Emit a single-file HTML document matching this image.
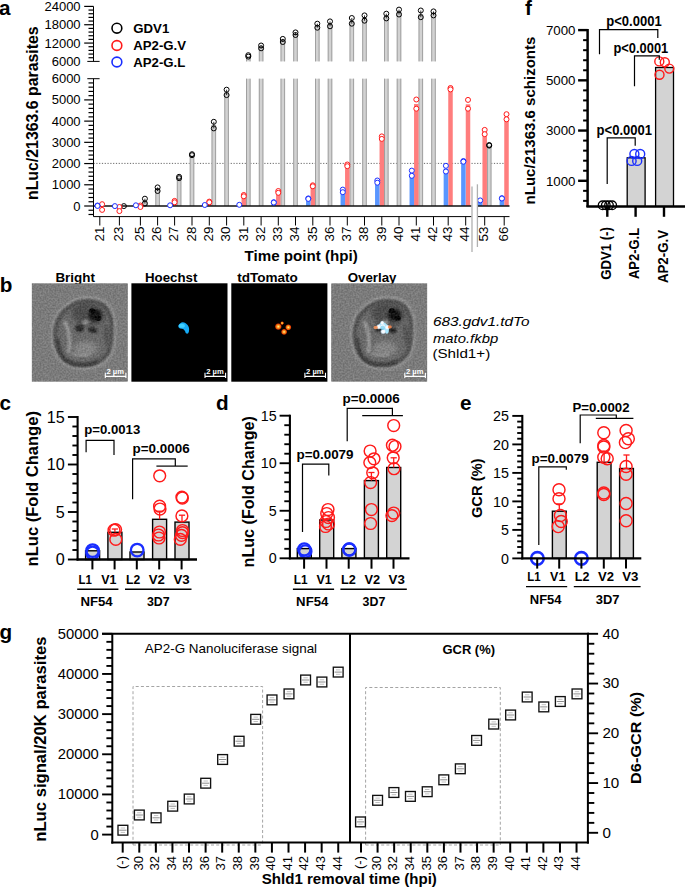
<!DOCTYPE html>
<html><head><meta charset="utf-8"><style>
html,body{margin:0;padding:0;background:#fff;width:685px;height:888px;overflow:hidden}
svg{display:block;font-family:"Liberation Sans", sans-serif}
</style></head><body>
<svg width="685" height="888" viewBox="0 0 685 888" font-family='"Liberation Sans", sans-serif'>
<line x1="93.50" y1="163.40" x2="505.00" y2="163.40" stroke="#444" stroke-width="0.8" stroke-dasharray="1.2,1.6"/>
<rect x="142.65" y="201.00" width="4.50" height="5.00" fill="#d2d2d2" stroke="none" stroke-width="1.0" />
<line x1="143.10" y1="201.00" x2="143.10" y2="206.00" stroke="#9a9a9a" stroke-width="0.9" />
<line x1="146.70" y1="201.00" x2="146.70" y2="206.00" stroke="#9a9a9a" stroke-width="0.9" />
<rect x="155.35" y="189.00" width="4.50" height="17.00" fill="#d2d2d2" stroke="none" stroke-width="1.0" />
<line x1="155.80" y1="189.00" x2="155.80" y2="206.00" stroke="#9a9a9a" stroke-width="0.9" />
<line x1="159.40" y1="189.00" x2="159.40" y2="206.00" stroke="#9a9a9a" stroke-width="0.9" />
<rect x="176.85" y="177.50" width="4.50" height="28.50" fill="#d2d2d2" stroke="none" stroke-width="1.0" />
<line x1="177.30" y1="177.50" x2="177.30" y2="206.00" stroke="#9a9a9a" stroke-width="0.9" />
<line x1="180.90" y1="177.50" x2="180.90" y2="206.00" stroke="#9a9a9a" stroke-width="0.9" />
<rect x="189.75" y="154.70" width="4.50" height="51.30" fill="#d2d2d2" stroke="none" stroke-width="1.0" />
<line x1="190.20" y1="154.70" x2="190.20" y2="206.00" stroke="#9a9a9a" stroke-width="0.9" />
<line x1="193.80" y1="154.70" x2="193.80" y2="206.00" stroke="#9a9a9a" stroke-width="0.9" />
<rect x="211.55" y="125.00" width="4.50" height="81.00" fill="#d2d2d2" stroke="none" stroke-width="1.0" />
<line x1="212.00" y1="125.00" x2="212.00" y2="206.00" stroke="#9a9a9a" stroke-width="0.9" />
<line x1="215.60" y1="125.00" x2="215.60" y2="206.00" stroke="#9a9a9a" stroke-width="0.9" />
<rect x="224.35" y="92.40" width="4.50" height="113.60" fill="#d2d2d2" stroke="none" stroke-width="1.0" />
<line x1="224.80" y1="92.40" x2="224.80" y2="206.00" stroke="#9a9a9a" stroke-width="0.9" />
<line x1="228.40" y1="92.40" x2="228.40" y2="206.00" stroke="#9a9a9a" stroke-width="0.9" />
<rect x="246.05" y="56.00" width="4.50" height="5.40" fill="#d2d2d2" stroke="none" stroke-width="1.0" />
<rect x="246.05" y="78.70" width="4.50" height="127.30" fill="#d2d2d2" stroke="none" stroke-width="1.0" />
<line x1="246.50" y1="56.00" x2="246.50" y2="61.40" stroke="#9a9a9a" stroke-width="0.9" />
<line x1="246.50" y1="78.70" x2="246.50" y2="206.00" stroke="#9a9a9a" stroke-width="0.9" />
<line x1="250.10" y1="56.00" x2="250.10" y2="61.40" stroke="#9a9a9a" stroke-width="0.9" />
<line x1="250.10" y1="78.70" x2="250.10" y2="206.00" stroke="#9a9a9a" stroke-width="0.9" />
<rect x="258.85" y="47.00" width="4.50" height="14.40" fill="#d2d2d2" stroke="none" stroke-width="1.0" />
<rect x="258.85" y="78.70" width="4.50" height="127.30" fill="#d2d2d2" stroke="none" stroke-width="1.0" />
<line x1="259.30" y1="47.00" x2="259.30" y2="61.40" stroke="#9a9a9a" stroke-width="0.9" />
<line x1="259.30" y1="78.70" x2="259.30" y2="206.00" stroke="#9a9a9a" stroke-width="0.9" />
<line x1="262.90" y1="47.00" x2="262.90" y2="61.40" stroke="#9a9a9a" stroke-width="0.9" />
<line x1="262.90" y1="78.70" x2="262.90" y2="206.00" stroke="#9a9a9a" stroke-width="0.9" />
<rect x="280.55" y="40.50" width="4.50" height="20.90" fill="#d2d2d2" stroke="none" stroke-width="1.0" />
<rect x="280.55" y="78.70" width="4.50" height="127.30" fill="#d2d2d2" stroke="none" stroke-width="1.0" />
<line x1="281.00" y1="40.50" x2="281.00" y2="61.40" stroke="#9a9a9a" stroke-width="0.9" />
<line x1="281.00" y1="78.70" x2="281.00" y2="206.00" stroke="#9a9a9a" stroke-width="0.9" />
<line x1="284.60" y1="40.50" x2="284.60" y2="61.40" stroke="#9a9a9a" stroke-width="0.9" />
<line x1="284.60" y1="78.70" x2="284.60" y2="206.00" stroke="#9a9a9a" stroke-width="0.9" />
<rect x="293.25" y="33.70" width="4.50" height="27.70" fill="#d2d2d2" stroke="none" stroke-width="1.0" />
<rect x="293.25" y="78.70" width="4.50" height="127.30" fill="#d2d2d2" stroke="none" stroke-width="1.0" />
<line x1="293.70" y1="33.70" x2="293.70" y2="61.40" stroke="#9a9a9a" stroke-width="0.9" />
<line x1="293.70" y1="78.70" x2="293.70" y2="206.00" stroke="#9a9a9a" stroke-width="0.9" />
<line x1="297.30" y1="33.70" x2="297.30" y2="61.40" stroke="#9a9a9a" stroke-width="0.9" />
<line x1="297.30" y1="78.70" x2="297.30" y2="206.00" stroke="#9a9a9a" stroke-width="0.9" />
<rect x="315.05" y="25.70" width="4.50" height="35.70" fill="#d2d2d2" stroke="none" stroke-width="1.0" />
<rect x="315.05" y="78.70" width="4.50" height="127.30" fill="#d2d2d2" stroke="none" stroke-width="1.0" />
<line x1="315.50" y1="25.70" x2="315.50" y2="61.40" stroke="#9a9a9a" stroke-width="0.9" />
<line x1="315.50" y1="78.70" x2="315.50" y2="206.00" stroke="#9a9a9a" stroke-width="0.9" />
<line x1="319.10" y1="25.70" x2="319.10" y2="61.40" stroke="#9a9a9a" stroke-width="0.9" />
<line x1="319.10" y1="78.70" x2="319.10" y2="206.00" stroke="#9a9a9a" stroke-width="0.9" />
<rect x="327.75" y="24.00" width="4.50" height="37.40" fill="#d2d2d2" stroke="none" stroke-width="1.0" />
<rect x="327.75" y="78.70" width="4.50" height="127.30" fill="#d2d2d2" stroke="none" stroke-width="1.0" />
<line x1="328.20" y1="24.00" x2="328.20" y2="61.40" stroke="#9a9a9a" stroke-width="0.9" />
<line x1="328.20" y1="78.70" x2="328.20" y2="206.00" stroke="#9a9a9a" stroke-width="0.9" />
<line x1="331.80" y1="24.00" x2="331.80" y2="61.40" stroke="#9a9a9a" stroke-width="0.9" />
<line x1="331.80" y1="78.70" x2="331.80" y2="206.00" stroke="#9a9a9a" stroke-width="0.9" />
<rect x="349.55" y="21.00" width="4.50" height="40.40" fill="#d2d2d2" stroke="none" stroke-width="1.0" />
<rect x="349.55" y="78.70" width="4.50" height="127.30" fill="#d2d2d2" stroke="none" stroke-width="1.0" />
<line x1="350.00" y1="21.00" x2="350.00" y2="61.40" stroke="#9a9a9a" stroke-width="0.9" />
<line x1="350.00" y1="78.70" x2="350.00" y2="206.00" stroke="#9a9a9a" stroke-width="0.9" />
<line x1="353.60" y1="21.00" x2="353.60" y2="61.40" stroke="#9a9a9a" stroke-width="0.9" />
<line x1="353.60" y1="78.70" x2="353.60" y2="206.00" stroke="#9a9a9a" stroke-width="0.9" />
<rect x="362.25" y="18.00" width="4.50" height="43.40" fill="#d2d2d2" stroke="none" stroke-width="1.0" />
<rect x="362.25" y="78.70" width="4.50" height="127.30" fill="#d2d2d2" stroke="none" stroke-width="1.0" />
<line x1="362.70" y1="18.00" x2="362.70" y2="61.40" stroke="#9a9a9a" stroke-width="0.9" />
<line x1="362.70" y1="78.70" x2="362.70" y2="206.00" stroke="#9a9a9a" stroke-width="0.9" />
<line x1="366.30" y1="18.00" x2="366.30" y2="61.40" stroke="#9a9a9a" stroke-width="0.9" />
<line x1="366.30" y1="78.70" x2="366.30" y2="206.00" stroke="#9a9a9a" stroke-width="0.9" />
<rect x="384.05" y="16.00" width="4.50" height="45.40" fill="#d2d2d2" stroke="none" stroke-width="1.0" />
<rect x="384.05" y="78.70" width="4.50" height="127.30" fill="#d2d2d2" stroke="none" stroke-width="1.0" />
<line x1="384.50" y1="16.00" x2="384.50" y2="61.40" stroke="#9a9a9a" stroke-width="0.9" />
<line x1="384.50" y1="78.70" x2="384.50" y2="206.00" stroke="#9a9a9a" stroke-width="0.9" />
<line x1="388.10" y1="16.00" x2="388.10" y2="61.40" stroke="#9a9a9a" stroke-width="0.9" />
<line x1="388.10" y1="78.70" x2="388.10" y2="206.00" stroke="#9a9a9a" stroke-width="0.9" />
<rect x="396.75" y="12.00" width="4.50" height="49.40" fill="#d2d2d2" stroke="none" stroke-width="1.0" />
<rect x="396.75" y="78.70" width="4.50" height="127.30" fill="#d2d2d2" stroke="none" stroke-width="1.0" />
<line x1="397.20" y1="12.00" x2="397.20" y2="61.40" stroke="#9a9a9a" stroke-width="0.9" />
<line x1="397.20" y1="78.70" x2="397.20" y2="206.00" stroke="#9a9a9a" stroke-width="0.9" />
<line x1="400.80" y1="12.00" x2="400.80" y2="61.40" stroke="#9a9a9a" stroke-width="0.9" />
<line x1="400.80" y1="78.70" x2="400.80" y2="206.00" stroke="#9a9a9a" stroke-width="0.9" />
<rect x="418.55" y="14.00" width="4.50" height="47.40" fill="#d2d2d2" stroke="none" stroke-width="1.0" />
<rect x="418.55" y="78.70" width="4.50" height="127.30" fill="#d2d2d2" stroke="none" stroke-width="1.0" />
<line x1="419.00" y1="14.00" x2="419.00" y2="61.40" stroke="#9a9a9a" stroke-width="0.9" />
<line x1="419.00" y1="78.70" x2="419.00" y2="206.00" stroke="#9a9a9a" stroke-width="0.9" />
<line x1="422.60" y1="14.00" x2="422.60" y2="61.40" stroke="#9a9a9a" stroke-width="0.9" />
<line x1="422.60" y1="78.70" x2="422.60" y2="206.00" stroke="#9a9a9a" stroke-width="0.9" />
<rect x="431.25" y="13.40" width="4.50" height="48.00" fill="#d2d2d2" stroke="none" stroke-width="1.0" />
<rect x="431.25" y="78.70" width="4.50" height="127.30" fill="#d2d2d2" stroke="none" stroke-width="1.0" />
<line x1="431.70" y1="13.40" x2="431.70" y2="61.40" stroke="#9a9a9a" stroke-width="0.9" />
<line x1="431.70" y1="78.70" x2="431.70" y2="206.00" stroke="#9a9a9a" stroke-width="0.9" />
<line x1="435.30" y1="13.40" x2="435.30" y2="61.40" stroke="#9a9a9a" stroke-width="0.9" />
<line x1="435.30" y1="78.70" x2="435.30" y2="206.00" stroke="#9a9a9a" stroke-width="0.9" />
<rect x="486.95" y="145.50" width="4.50" height="60.50" fill="#d2d2d2" stroke="none" stroke-width="1.0" />
<line x1="487.40" y1="145.50" x2="487.40" y2="206.00" stroke="#9a9a9a" stroke-width="0.9" />
<line x1="491.00" y1="145.50" x2="491.00" y2="206.00" stroke="#9a9a9a" stroke-width="0.9" />
<rect x="172.35" y="201.60" width="4.50" height="4.40" fill="#ff7d7d" stroke="none" stroke-width="1.0" />
<rect x="207.05" y="202.00" width="4.50" height="4.00" fill="#ff7d7d" stroke="none" stroke-width="1.0" />
<rect x="241.55" y="195.50" width="4.50" height="10.50" fill="#ff7d7d" stroke="none" stroke-width="1.0" />
<rect x="276.05" y="192.00" width="4.50" height="14.00" fill="#ff7d7d" stroke="none" stroke-width="1.0" />
<rect x="310.55" y="186.00" width="4.50" height="20.00" fill="#ff7d7d" stroke="none" stroke-width="1.0" />
<rect x="345.05" y="165.30" width="4.50" height="40.70" fill="#ff7d7d" stroke="none" stroke-width="1.0" />
<rect x="379.55" y="137.60" width="4.50" height="68.40" fill="#ff7d7d" stroke="none" stroke-width="1.0" />
<rect x="414.05" y="104.00" width="4.50" height="102.00" fill="#ff7d7d" stroke="none" stroke-width="1.0" />
<rect x="448.25" y="88.70" width="4.50" height="117.30" fill="#ff7d7d" stroke="none" stroke-width="1.0" />
<rect x="465.75" y="104.30" width="4.50" height="101.70" fill="#ff7d7d" stroke="none" stroke-width="1.0" />
<rect x="482.45" y="132.00" width="4.50" height="74.00" fill="#ff7d7d" stroke="none" stroke-width="1.0" />
<rect x="504.25" y="116.70" width="4.50" height="89.30" fill="#ff7d7d" stroke="none" stroke-width="1.0" />
<rect x="271.55" y="202.50" width="4.50" height="3.50" fill="#5996ff" stroke="none" stroke-width="1.0" />
<rect x="306.05" y="198.60" width="4.50" height="7.40" fill="#5996ff" stroke="none" stroke-width="1.0" />
<rect x="340.55" y="191.00" width="4.50" height="15.00" fill="#5996ff" stroke="none" stroke-width="1.0" />
<rect x="375.05" y="181.60" width="4.50" height="24.40" fill="#5996ff" stroke="none" stroke-width="1.0" />
<rect x="409.55" y="173.20" width="4.50" height="32.80" fill="#5996ff" stroke="none" stroke-width="1.0" />
<rect x="443.65" y="168.60" width="4.50" height="37.40" fill="#5996ff" stroke="none" stroke-width="1.0" />
<rect x="461.15" y="161.30" width="4.50" height="44.70" fill="#5996ff" stroke="none" stroke-width="1.0" />
<rect x="477.95" y="200.40" width="4.50" height="5.60" fill="#5996ff" stroke="none" stroke-width="1.0" />
<rect x="499.65" y="198.30" width="4.50" height="7.70" fill="#5996ff" stroke="none" stroke-width="1.0" />
<line x1="93.50" y1="206.00" x2="471.50" y2="206.00" stroke="#111" stroke-width="1.5" />
<line x1="477.50" y1="206.00" x2="509.50" y2="206.00" stroke="#111" stroke-width="1.5" />
<circle cx="123.90" cy="206.10" r="2.5" fill="none" stroke="#000" stroke-width="1.0"/>
<line x1="144.90" y1="198.70" x2="144.90" y2="203.50" stroke="#000" stroke-width="0.8" />
<circle cx="144.90" cy="198.70" r="2.5" fill="none" stroke="#000" stroke-width="1.0"/>
<circle cx="144.90" cy="203.50" r="2.5" fill="none" stroke="#000" stroke-width="1.0"/>
<line x1="157.60" y1="187.40" x2="157.60" y2="191.00" stroke="#000" stroke-width="0.8" />
<circle cx="157.60" cy="187.40" r="2.5" fill="none" stroke="#000" stroke-width="1.0"/>
<circle cx="157.60" cy="191.00" r="2.5" fill="none" stroke="#000" stroke-width="1.0"/>
<circle cx="179.10" cy="176.80" r="2.5" fill="none" stroke="#000" stroke-width="1.0"/>
<circle cx="179.10" cy="178.20" r="2.5" fill="none" stroke="#000" stroke-width="1.0"/>
<circle cx="192.00" cy="154.20" r="2.5" fill="none" stroke="#000" stroke-width="1.0"/>
<circle cx="192.00" cy="155.20" r="2.5" fill="none" stroke="#000" stroke-width="1.0"/>
<line x1="213.80" y1="121.80" x2="213.80" y2="128.40" stroke="#000" stroke-width="0.8" />
<circle cx="213.80" cy="121.80" r="2.5" fill="none" stroke="#000" stroke-width="1.0"/>
<circle cx="213.80" cy="128.40" r="2.5" fill="none" stroke="#000" stroke-width="1.0"/>
<line x1="226.60" y1="89.70" x2="226.60" y2="95.10" stroke="#000" stroke-width="0.8" />
<circle cx="226.60" cy="89.70" r="2.5" fill="none" stroke="#000" stroke-width="1.0"/>
<circle cx="226.60" cy="95.10" r="2.5" fill="none" stroke="#000" stroke-width="1.0"/>
<circle cx="248.30" cy="55.20" r="2.5" fill="none" stroke="#000" stroke-width="1.0"/>
<circle cx="248.30" cy="56.60" r="2.5" fill="none" stroke="#000" stroke-width="1.0"/>
<line x1="261.10" y1="45.50" x2="261.10" y2="48.30" stroke="#000" stroke-width="0.8" />
<circle cx="261.10" cy="45.50" r="2.5" fill="none" stroke="#000" stroke-width="1.0"/>
<circle cx="261.10" cy="48.30" r="2.5" fill="none" stroke="#000" stroke-width="1.0"/>
<line x1="282.80" y1="38.90" x2="282.80" y2="42.00" stroke="#000" stroke-width="0.8" />
<circle cx="282.80" cy="38.90" r="2.5" fill="none" stroke="#000" stroke-width="1.0"/>
<circle cx="282.80" cy="42.00" r="2.5" fill="none" stroke="#000" stroke-width="1.0"/>
<line x1="295.50" y1="32.40" x2="295.50" y2="35.00" stroke="#000" stroke-width="0.8" />
<circle cx="295.50" cy="32.40" r="2.5" fill="none" stroke="#000" stroke-width="1.0"/>
<circle cx="295.50" cy="35.00" r="2.5" fill="none" stroke="#000" stroke-width="1.0"/>
<line x1="317.30" y1="23.70" x2="317.30" y2="27.70" stroke="#000" stroke-width="0.8" />
<circle cx="317.30" cy="23.70" r="2.5" fill="none" stroke="#000" stroke-width="1.0"/>
<circle cx="317.30" cy="27.70" r="2.5" fill="none" stroke="#000" stroke-width="1.0"/>
<line x1="330.00" y1="21.40" x2="330.00" y2="26.30" stroke="#000" stroke-width="0.8" />
<circle cx="330.00" cy="21.40" r="2.5" fill="none" stroke="#000" stroke-width="1.0"/>
<circle cx="330.00" cy="26.30" r="2.5" fill="none" stroke="#000" stroke-width="1.0"/>
<line x1="351.80" y1="18.00" x2="351.80" y2="23.70" stroke="#000" stroke-width="0.8" />
<circle cx="351.80" cy="18.00" r="2.5" fill="none" stroke="#000" stroke-width="1.0"/>
<circle cx="351.80" cy="23.70" r="2.5" fill="none" stroke="#000" stroke-width="1.0"/>
<line x1="364.50" y1="15.40" x2="364.50" y2="20.70" stroke="#000" stroke-width="0.8" />
<circle cx="364.50" cy="15.40" r="2.5" fill="none" stroke="#000" stroke-width="1.0"/>
<circle cx="364.50" cy="20.70" r="2.5" fill="none" stroke="#000" stroke-width="1.0"/>
<line x1="386.30" y1="13.70" x2="386.30" y2="18.40" stroke="#000" stroke-width="0.8" />
<circle cx="386.30" cy="13.70" r="2.5" fill="none" stroke="#000" stroke-width="1.0"/>
<circle cx="386.30" cy="18.40" r="2.5" fill="none" stroke="#000" stroke-width="1.0"/>
<line x1="399.00" y1="9.60" x2="399.00" y2="14.50" stroke="#000" stroke-width="0.8" />
<circle cx="399.00" cy="9.60" r="2.5" fill="none" stroke="#000" stroke-width="1.0"/>
<circle cx="399.00" cy="14.50" r="2.5" fill="none" stroke="#000" stroke-width="1.0"/>
<line x1="420.80" y1="10.50" x2="420.80" y2="17.20" stroke="#000" stroke-width="0.8" />
<circle cx="420.80" cy="10.50" r="2.5" fill="none" stroke="#000" stroke-width="1.0"/>
<circle cx="420.80" cy="17.20" r="2.5" fill="none" stroke="#000" stroke-width="1.0"/>
<line x1="433.50" y1="11.40" x2="433.50" y2="15.40" stroke="#000" stroke-width="0.8" />
<circle cx="433.50" cy="11.40" r="2.5" fill="none" stroke="#000" stroke-width="1.0"/>
<circle cx="433.50" cy="15.40" r="2.5" fill="none" stroke="#000" stroke-width="1.0"/>
<circle cx="489.20" cy="145.00" r="2.5" fill="none" stroke="#000" stroke-width="1.0"/>
<circle cx="489.20" cy="145.60" r="2.5" fill="none" stroke="#000" stroke-width="1.0"/>
<circle cx="102.10" cy="204.20" r="2.5" fill="#fff" stroke="#ff1a1a" stroke-width="1.0"/>
<circle cx="102.10" cy="209.90" r="2.5" fill="#fff" stroke="#ff1a1a" stroke-width="1.0"/>
<circle cx="119.40" cy="207.00" r="2.5" fill="#fff" stroke="#ff1a1a" stroke-width="1.0"/>
<circle cx="119.40" cy="211.10" r="2.5" fill="#fff" stroke="#ff1a1a" stroke-width="1.0"/>
<circle cx="140.40" cy="205.50" r="2.5" fill="#fff" stroke="#ff1a1a" stroke-width="1.0"/>
<circle cx="140.40" cy="207.00" r="2.5" fill="#fff" stroke="#ff1a1a" stroke-width="1.0"/>
<circle cx="174.60" cy="200.90" r="2.5" fill="#fff" stroke="#ff1a1a" stroke-width="1.0"/>
<circle cx="174.60" cy="202.30" r="2.5" fill="#fff" stroke="#ff1a1a" stroke-width="1.0"/>
<circle cx="209.30" cy="201.60" r="2.5" fill="#fff" stroke="#ff1a1a" stroke-width="1.0"/>
<circle cx="209.30" cy="202.30" r="2.5" fill="#fff" stroke="#ff1a1a" stroke-width="1.0"/>
<circle cx="243.80" cy="195.00" r="2.5" fill="#fff" stroke="#ff1a1a" stroke-width="1.0"/>
<circle cx="243.80" cy="196.30" r="2.5" fill="#fff" stroke="#ff1a1a" stroke-width="1.0"/>
<circle cx="278.30" cy="191.00" r="2.5" fill="#fff" stroke="#ff1a1a" stroke-width="1.0"/>
<circle cx="278.30" cy="192.80" r="2.5" fill="#fff" stroke="#ff1a1a" stroke-width="1.0"/>
<circle cx="312.80" cy="185.30" r="2.5" fill="#fff" stroke="#ff1a1a" stroke-width="1.0"/>
<circle cx="312.80" cy="186.30" r="2.5" fill="#fff" stroke="#ff1a1a" stroke-width="1.0"/>
<circle cx="347.30" cy="164.50" r="2.5" fill="#fff" stroke="#ff1a1a" stroke-width="1.0"/>
<circle cx="347.30" cy="166.20" r="2.5" fill="#fff" stroke="#ff1a1a" stroke-width="1.0"/>
<circle cx="381.80" cy="136.40" r="2.5" fill="#fff" stroke="#ff1a1a" stroke-width="1.0"/>
<circle cx="381.80" cy="138.90" r="2.5" fill="#fff" stroke="#ff1a1a" stroke-width="1.0"/>
<circle cx="416.30" cy="99.50" r="2.5" fill="#fff" stroke="#ff1a1a" stroke-width="1.0"/>
<circle cx="416.30" cy="108.70" r="2.5" fill="#fff" stroke="#ff1a1a" stroke-width="1.0"/>
<circle cx="450.50" cy="88.00" r="2.5" fill="#fff" stroke="#ff1a1a" stroke-width="1.0"/>
<circle cx="450.50" cy="89.40" r="2.5" fill="#fff" stroke="#ff1a1a" stroke-width="1.0"/>
<circle cx="468.00" cy="99.90" r="2.5" fill="#fff" stroke="#ff1a1a" stroke-width="1.0"/>
<circle cx="468.00" cy="108.70" r="2.5" fill="#fff" stroke="#ff1a1a" stroke-width="1.0"/>
<circle cx="484.70" cy="129.90" r="2.5" fill="#fff" stroke="#ff1a1a" stroke-width="1.0"/>
<circle cx="484.70" cy="134.20" r="2.5" fill="#fff" stroke="#ff1a1a" stroke-width="1.0"/>
<circle cx="506.50" cy="114.20" r="2.5" fill="#fff" stroke="#ff1a1a" stroke-width="1.0"/>
<circle cx="506.50" cy="119.30" r="2.5" fill="#fff" stroke="#ff1a1a" stroke-width="1.0"/>
<circle cx="97.50" cy="205.50" r="2.5" fill="#fff" stroke="#1a2eff" stroke-width="1.0"/>
<circle cx="97.50" cy="205.90" r="2.5" fill="#fff" stroke="#1a2eff" stroke-width="1.0"/>
<circle cx="114.90" cy="206.10" r="2.5" fill="#fff" stroke="#1a2eff" stroke-width="1.0"/>
<circle cx="135.90" cy="205.30" r="2.5" fill="#fff" stroke="#1a2eff" stroke-width="1.0"/>
<circle cx="170.10" cy="205.30" r="2.5" fill="#fff" stroke="#1a2eff" stroke-width="1.0"/>
<circle cx="204.80" cy="205.00" r="2.5" fill="#fff" stroke="#1a2eff" stroke-width="1.0"/>
<circle cx="239.30" cy="204.80" r="2.5" fill="#fff" stroke="#1a2eff" stroke-width="1.0"/>
<circle cx="273.80" cy="202.20" r="2.5" fill="#fff" stroke="#1a2eff" stroke-width="1.0"/>
<circle cx="273.80" cy="202.60" r="2.5" fill="#fff" stroke="#1a2eff" stroke-width="1.0"/>
<circle cx="308.30" cy="198.40" r="2.5" fill="#fff" stroke="#1a2eff" stroke-width="1.0"/>
<circle cx="308.30" cy="198.90" r="2.5" fill="#fff" stroke="#1a2eff" stroke-width="1.0"/>
<circle cx="342.80" cy="189.60" r="2.5" fill="#fff" stroke="#1a2eff" stroke-width="1.0"/>
<circle cx="342.80" cy="192.20" r="2.5" fill="#fff" stroke="#1a2eff" stroke-width="1.0"/>
<circle cx="377.30" cy="180.50" r="2.5" fill="#fff" stroke="#1a2eff" stroke-width="1.0"/>
<circle cx="377.30" cy="182.70" r="2.5" fill="#fff" stroke="#1a2eff" stroke-width="1.0"/>
<circle cx="411.80" cy="170.60" r="2.5" fill="#fff" stroke="#1a2eff" stroke-width="1.0"/>
<circle cx="411.80" cy="175.80" r="2.5" fill="#fff" stroke="#1a2eff" stroke-width="1.0"/>
<circle cx="445.90" cy="165.80" r="2.5" fill="#fff" stroke="#1a2eff" stroke-width="1.0"/>
<circle cx="445.90" cy="171.50" r="2.5" fill="#fff" stroke="#1a2eff" stroke-width="1.0"/>
<circle cx="463.40" cy="161.00" r="2.5" fill="#fff" stroke="#1a2eff" stroke-width="1.0"/>
<circle cx="463.40" cy="161.70" r="2.5" fill="#fff" stroke="#1a2eff" stroke-width="1.0"/>
<circle cx="480.20" cy="200.40" r="2.5" fill="#fff" stroke="#1a2eff" stroke-width="1.0"/>
<circle cx="501.90" cy="198.20" r="2.5" fill="#fff" stroke="#1a2eff" stroke-width="1.0"/>
<circle cx="501.90" cy="198.50" r="2.5" fill="#fff" stroke="#1a2eff" stroke-width="1.0"/>
<line x1="93.50" y1="78.70" x2="93.50" y2="216.60" stroke="#000" stroke-width="1.0" />
<line x1="93.50" y1="6.40" x2="93.50" y2="61.40" stroke="#000" stroke-width="1.0" />
<line x1="87.30" y1="61.40" x2="99.60" y2="61.40" stroke="#000" stroke-width="1.0" />
<line x1="87.30" y1="78.70" x2="99.60" y2="78.70" stroke="#000" stroke-width="1.0" />
<line x1="88.50" y1="214.49" x2="93.50" y2="214.49" stroke="#000" stroke-width="1.2" />
<line x1="88.50" y1="210.24" x2="93.50" y2="210.24" stroke="#000" stroke-width="1.2" />
<line x1="84.20" y1="206.00" x2="93.50" y2="206.00" stroke="#000" stroke-width="1.2" />
<line x1="88.50" y1="201.76" x2="93.50" y2="201.76" stroke="#000" stroke-width="1.2" />
<line x1="88.50" y1="197.51" x2="93.50" y2="197.51" stroke="#000" stroke-width="1.2" />
<line x1="88.50" y1="193.27" x2="93.50" y2="193.27" stroke="#000" stroke-width="1.2" />
<line x1="88.50" y1="189.02" x2="93.50" y2="189.02" stroke="#000" stroke-width="1.2" />
<line x1="84.20" y1="184.78" x2="93.50" y2="184.78" stroke="#000" stroke-width="1.2" />
<line x1="88.50" y1="180.54" x2="93.50" y2="180.54" stroke="#000" stroke-width="1.2" />
<line x1="88.50" y1="176.29" x2="93.50" y2="176.29" stroke="#000" stroke-width="1.2" />
<line x1="88.50" y1="172.05" x2="93.50" y2="172.05" stroke="#000" stroke-width="1.2" />
<line x1="88.50" y1="167.80" x2="93.50" y2="167.80" stroke="#000" stroke-width="1.2" />
<line x1="84.20" y1="163.56" x2="93.50" y2="163.56" stroke="#000" stroke-width="1.2" />
<line x1="88.50" y1="159.32" x2="93.50" y2="159.32" stroke="#000" stroke-width="1.2" />
<line x1="88.50" y1="155.07" x2="93.50" y2="155.07" stroke="#000" stroke-width="1.2" />
<line x1="88.50" y1="150.83" x2="93.50" y2="150.83" stroke="#000" stroke-width="1.2" />
<line x1="88.50" y1="146.58" x2="93.50" y2="146.58" stroke="#000" stroke-width="1.2" />
<line x1="84.20" y1="142.34" x2="93.50" y2="142.34" stroke="#000" stroke-width="1.2" />
<line x1="88.50" y1="138.10" x2="93.50" y2="138.10" stroke="#000" stroke-width="1.2" />
<line x1="88.50" y1="133.85" x2="93.50" y2="133.85" stroke="#000" stroke-width="1.2" />
<line x1="88.50" y1="129.61" x2="93.50" y2="129.61" stroke="#000" stroke-width="1.2" />
<line x1="88.50" y1="125.36" x2="93.50" y2="125.36" stroke="#000" stroke-width="1.2" />
<line x1="84.20" y1="121.12" x2="93.50" y2="121.12" stroke="#000" stroke-width="1.2" />
<line x1="88.50" y1="116.88" x2="93.50" y2="116.88" stroke="#000" stroke-width="1.2" />
<line x1="88.50" y1="112.63" x2="93.50" y2="112.63" stroke="#000" stroke-width="1.2" />
<line x1="88.50" y1="108.39" x2="93.50" y2="108.39" stroke="#000" stroke-width="1.2" />
<line x1="88.50" y1="104.14" x2="93.50" y2="104.14" stroke="#000" stroke-width="1.2" />
<line x1="84.20" y1="99.90" x2="93.50" y2="99.90" stroke="#000" stroke-width="1.2" />
<line x1="88.50" y1="95.66" x2="93.50" y2="95.66" stroke="#000" stroke-width="1.2" />
<line x1="88.50" y1="91.41" x2="93.50" y2="91.41" stroke="#000" stroke-width="1.2" />
<line x1="88.50" y1="87.17" x2="93.50" y2="87.17" stroke="#000" stroke-width="1.2" />
<line x1="88.50" y1="82.92" x2="93.50" y2="82.92" stroke="#000" stroke-width="1.2" />
<line x1="88.50" y1="57.73" x2="93.50" y2="57.73" stroke="#000" stroke-width="1.2" />
<line x1="88.50" y1="54.07" x2="93.50" y2="54.07" stroke="#000" stroke-width="1.2" />
<line x1="88.50" y1="50.40" x2="93.50" y2="50.40" stroke="#000" stroke-width="1.2" />
<line x1="88.50" y1="46.73" x2="93.50" y2="46.73" stroke="#000" stroke-width="1.2" />
<line x1="84.20" y1="43.07" x2="93.50" y2="43.07" stroke="#000" stroke-width="1.2" />
<line x1="88.50" y1="39.40" x2="93.50" y2="39.40" stroke="#000" stroke-width="1.2" />
<line x1="88.50" y1="35.73" x2="93.50" y2="35.73" stroke="#000" stroke-width="1.2" />
<line x1="88.50" y1="32.07" x2="93.50" y2="32.07" stroke="#000" stroke-width="1.2" />
<line x1="88.50" y1="28.40" x2="93.50" y2="28.40" stroke="#000" stroke-width="1.2" />
<line x1="84.20" y1="24.73" x2="93.50" y2="24.73" stroke="#000" stroke-width="1.2" />
<line x1="88.50" y1="21.07" x2="93.50" y2="21.07" stroke="#000" stroke-width="1.2" />
<line x1="88.50" y1="17.40" x2="93.50" y2="17.40" stroke="#000" stroke-width="1.2" />
<line x1="88.50" y1="13.73" x2="93.50" y2="13.73" stroke="#000" stroke-width="1.2" />
<line x1="88.50" y1="10.07" x2="93.50" y2="10.07" stroke="#000" stroke-width="1.2" />
<line x1="84.20" y1="6.40" x2="93.50" y2="6.40" stroke="#000" stroke-width="1.2" />
<line x1="93.50" y1="216.60" x2="471.50" y2="216.60" stroke="#000" stroke-width="1.0" />
<line x1="477.50" y1="216.60" x2="509.50" y2="216.60" stroke="#000" stroke-width="1.0" />
<line x1="99.80" y1="216.60" x2="99.80" y2="225.50" stroke="#000" stroke-width="1.0" />
<line x1="119.40" y1="216.60" x2="119.40" y2="225.50" stroke="#000" stroke-width="1.0" />
<line x1="140.40" y1="216.60" x2="140.40" y2="225.50" stroke="#000" stroke-width="1.0" />
<line x1="157.60" y1="216.60" x2="157.60" y2="225.50" stroke="#000" stroke-width="1.0" />
<line x1="174.60" y1="216.60" x2="174.60" y2="225.50" stroke="#000" stroke-width="1.0" />
<line x1="192.00" y1="216.60" x2="192.00" y2="225.50" stroke="#000" stroke-width="1.0" />
<line x1="209.30" y1="216.60" x2="209.30" y2="225.50" stroke="#000" stroke-width="1.0" />
<line x1="226.60" y1="216.60" x2="226.60" y2="225.50" stroke="#000" stroke-width="1.0" />
<line x1="243.80" y1="216.60" x2="243.80" y2="225.50" stroke="#000" stroke-width="1.0" />
<line x1="261.10" y1="216.60" x2="261.10" y2="225.50" stroke="#000" stroke-width="1.0" />
<line x1="278.30" y1="216.60" x2="278.30" y2="225.50" stroke="#000" stroke-width="1.0" />
<line x1="295.50" y1="216.60" x2="295.50" y2="225.50" stroke="#000" stroke-width="1.0" />
<line x1="312.80" y1="216.60" x2="312.80" y2="225.50" stroke="#000" stroke-width="1.0" />
<line x1="330.00" y1="216.60" x2="330.00" y2="225.50" stroke="#000" stroke-width="1.0" />
<line x1="347.30" y1="216.60" x2="347.30" y2="225.50" stroke="#000" stroke-width="1.0" />
<line x1="364.50" y1="216.60" x2="364.50" y2="225.50" stroke="#000" stroke-width="1.0" />
<line x1="381.80" y1="216.60" x2="381.80" y2="225.50" stroke="#000" stroke-width="1.0" />
<line x1="399.00" y1="216.60" x2="399.00" y2="225.50" stroke="#000" stroke-width="1.0" />
<line x1="416.30" y1="216.60" x2="416.30" y2="225.50" stroke="#000" stroke-width="1.0" />
<line x1="433.50" y1="216.60" x2="433.50" y2="225.50" stroke="#000" stroke-width="1.0" />
<line x1="448.20" y1="216.60" x2="448.20" y2="225.50" stroke="#000" stroke-width="1.0" />
<line x1="465.70" y1="216.60" x2="465.70" y2="225.50" stroke="#000" stroke-width="1.0" />
<line x1="484.70" y1="216.60" x2="484.70" y2="225.50" stroke="#000" stroke-width="1.0" />
<line x1="504.20" y1="216.60" x2="504.20" y2="225.50" stroke="#000" stroke-width="1.0" />
<line x1="472.00" y1="186.50" x2="472.00" y2="252.00" stroke="#b0b0b0" stroke-width="1.3" />
<line x1="477.40" y1="184.30" x2="477.40" y2="247.00" stroke="#b0b0b0" stroke-width="1.3" />
<text transform="translate(80.60,10.90)" font-size="13.0" font-weight="normal" font-style="normal" text-anchor="end" fill="#000">24000</text>
<text transform="translate(80.60,29.23)" font-size="13.0" font-weight="normal" font-style="normal" text-anchor="end" fill="#000">18000</text>
<text transform="translate(80.60,47.57)" font-size="13.0" font-weight="normal" font-style="normal" text-anchor="end" fill="#000">12000</text>
<text transform="translate(80.60,65.90)" font-size="13.0" font-weight="normal" font-style="normal" text-anchor="end" fill="#000">6000</text>
<text transform="translate(80.60,210.50)" font-size="13.0" font-weight="normal" font-style="normal" text-anchor="end" fill="#000">0</text>
<text transform="translate(80.60,189.28)" font-size="13.0" font-weight="normal" font-style="normal" text-anchor="end" fill="#000">1000</text>
<text transform="translate(80.60,168.06)" font-size="13.0" font-weight="normal" font-style="normal" text-anchor="end" fill="#000">2000</text>
<text transform="translate(80.60,146.84)" font-size="13.0" font-weight="normal" font-style="normal" text-anchor="end" fill="#000">3000</text>
<text transform="translate(80.60,125.62)" font-size="13.0" font-weight="normal" font-style="normal" text-anchor="end" fill="#000">4000</text>
<text transform="translate(80.60,104.40)" font-size="13.0" font-weight="normal" font-style="normal" text-anchor="end" fill="#000">5000</text>
<text transform="translate(80.60,83.18)" font-size="13.0" font-weight="normal" font-style="normal" text-anchor="end" fill="#000">6000</text>
<text transform="translate(103.50,226.60) rotate(-90)" font-size="13.4" font-weight="normal" font-style="normal" text-anchor="end" fill="#000">21</text>
<text transform="translate(123.10,226.60) rotate(-90)" font-size="13.4" font-weight="normal" font-style="normal" text-anchor="end" fill="#000">23</text>
<text transform="translate(144.10,226.60) rotate(-90)" font-size="13.4" font-weight="normal" font-style="normal" text-anchor="end" fill="#000">25</text>
<text transform="translate(161.30,226.60) rotate(-90)" font-size="13.4" font-weight="normal" font-style="normal" text-anchor="end" fill="#000">26</text>
<text transform="translate(178.30,226.60) rotate(-90)" font-size="13.4" font-weight="normal" font-style="normal" text-anchor="end" fill="#000">27</text>
<text transform="translate(195.70,226.60) rotate(-90)" font-size="13.4" font-weight="normal" font-style="normal" text-anchor="end" fill="#000">28</text>
<text transform="translate(213.00,226.60) rotate(-90)" font-size="13.4" font-weight="normal" font-style="normal" text-anchor="end" fill="#000">29</text>
<text transform="translate(230.30,226.60) rotate(-90)" font-size="13.4" font-weight="normal" font-style="normal" text-anchor="end" fill="#000">30</text>
<text transform="translate(247.50,226.60) rotate(-90)" font-size="13.4" font-weight="normal" font-style="normal" text-anchor="end" fill="#000">31</text>
<text transform="translate(264.80,226.60) rotate(-90)" font-size="13.4" font-weight="normal" font-style="normal" text-anchor="end" fill="#000">32</text>
<text transform="translate(282.00,226.60) rotate(-90)" font-size="13.4" font-weight="normal" font-style="normal" text-anchor="end" fill="#000">33</text>
<text transform="translate(299.20,226.60) rotate(-90)" font-size="13.4" font-weight="normal" font-style="normal" text-anchor="end" fill="#000">34</text>
<text transform="translate(316.50,226.60) rotate(-90)" font-size="13.4" font-weight="normal" font-style="normal" text-anchor="end" fill="#000">35</text>
<text transform="translate(333.70,226.60) rotate(-90)" font-size="13.4" font-weight="normal" font-style="normal" text-anchor="end" fill="#000">36</text>
<text transform="translate(351.00,226.60) rotate(-90)" font-size="13.4" font-weight="normal" font-style="normal" text-anchor="end" fill="#000">37</text>
<text transform="translate(368.20,226.60) rotate(-90)" font-size="13.4" font-weight="normal" font-style="normal" text-anchor="end" fill="#000">38</text>
<text transform="translate(385.50,226.60) rotate(-90)" font-size="13.4" font-weight="normal" font-style="normal" text-anchor="end" fill="#000">39</text>
<text transform="translate(402.70,226.60) rotate(-90)" font-size="13.4" font-weight="normal" font-style="normal" text-anchor="end" fill="#000">40</text>
<text transform="translate(420.00,226.60) rotate(-90)" font-size="13.4" font-weight="normal" font-style="normal" text-anchor="end" fill="#000">41</text>
<text transform="translate(437.20,226.60) rotate(-90)" font-size="13.4" font-weight="normal" font-style="normal" text-anchor="end" fill="#000">42</text>
<text transform="translate(451.90,226.60) rotate(-90)" font-size="13.4" font-weight="normal" font-style="normal" text-anchor="end" fill="#000">43</text>
<text transform="translate(469.40,226.60) rotate(-90)" font-size="13.4" font-weight="normal" font-style="normal" text-anchor="end" fill="#000">44</text>
<text transform="translate(488.40,226.60) rotate(-90)" font-size="13.4" font-weight="normal" font-style="normal" text-anchor="end" fill="#000">53</text>
<text transform="translate(507.90,226.60) rotate(-90)" font-size="13.4" font-weight="normal" font-style="normal" text-anchor="end" fill="#000">66</text>
<text transform="translate(244.60,261.10)" font-size="14" font-weight="bold" font-style="normal" text-anchor="start" fill="#000" textLength="113.2" lengthAdjust="spacingAndGlyphs">Time point (hpi)</text>
<text transform="translate(38.00,200.00) rotate(-90)" font-size="16.5" font-weight="bold" font-style="normal" text-anchor="start" fill="#000" textLength="173.6" lengthAdjust="spacingAndGlyphs">nLuc/21363.6 parasites</text>
<circle cx="116.90" cy="28.20" r="4.9" fill="none" stroke="#000" stroke-width="1.6"/>
<text transform="translate(133.30,33.10)" font-size="13.2" font-weight="bold" font-style="normal" text-anchor="start" fill="#000">GDV1</text>
<circle cx="116.90" cy="45.50" r="4.9" fill="none" stroke="#ff1a1a" stroke-width="1.6"/>
<text transform="translate(133.30,50.40)" font-size="13.2" font-weight="bold" font-style="normal" text-anchor="start" fill="#000">AP2-G.V</text>
<circle cx="116.90" cy="62.00" r="4.9" fill="none" stroke="#1a2eff" stroke-width="1.6"/>
<text transform="translate(133.30,66.90)" font-size="13.2" font-weight="bold" font-style="normal" text-anchor="start" fill="#000">AP2-G.L</text>
<text transform="translate(-1.00,14.90)" font-size="20.7" font-weight="bold" font-style="normal" text-anchor="start" fill="#000">a</text>
<line x1="587.60" y1="29.00" x2="587.60" y2="207.00" stroke="#000" stroke-width="2.5" />
<line x1="586.40" y1="206.40" x2="685.00" y2="206.40" stroke="#000" stroke-width="2.5" />
<line x1="578.10" y1="180.79" x2="587.60" y2="180.79" stroke="#000" stroke-width="2.4" />
<text transform="translate(575.50,185.59)" font-size="13.3" font-weight="normal" font-style="normal" text-anchor="end" fill="#000">1000</text>
<line x1="578.10" y1="130.56" x2="587.60" y2="130.56" stroke="#000" stroke-width="2.4" />
<text transform="translate(575.50,135.36)" font-size="13.3" font-weight="normal" font-style="normal" text-anchor="end" fill="#000">3000</text>
<line x1="578.10" y1="80.33" x2="587.60" y2="80.33" stroke="#000" stroke-width="2.4" />
<text transform="translate(575.50,85.13)" font-size="13.3" font-weight="normal" font-style="normal" text-anchor="end" fill="#000">5000</text>
<line x1="578.10" y1="30.10" x2="587.60" y2="30.10" stroke="#000" stroke-width="2.4" />
<text transform="translate(575.50,34.90)" font-size="13.3" font-weight="normal" font-style="normal" text-anchor="end" fill="#000">7000</text>
<line x1="583.10" y1="200.88" x2="587.60" y2="200.88" stroke="#000" stroke-width="2.0" />
<line x1="583.10" y1="190.83" x2="587.60" y2="190.83" stroke="#000" stroke-width="2.0" />
<line x1="583.10" y1="170.74" x2="587.60" y2="170.74" stroke="#000" stroke-width="2.0" />
<line x1="583.10" y1="160.69" x2="587.60" y2="160.69" stroke="#000" stroke-width="2.0" />
<line x1="583.10" y1="150.65" x2="587.60" y2="150.65" stroke="#000" stroke-width="2.0" />
<line x1="583.10" y1="140.60" x2="587.60" y2="140.60" stroke="#000" stroke-width="2.0" />
<line x1="583.10" y1="120.51" x2="587.60" y2="120.51" stroke="#000" stroke-width="2.0" />
<line x1="583.10" y1="110.47" x2="587.60" y2="110.47" stroke="#000" stroke-width="2.0" />
<line x1="583.10" y1="100.42" x2="587.60" y2="100.42" stroke="#000" stroke-width="2.0" />
<line x1="583.10" y1="90.38" x2="587.60" y2="90.38" stroke="#000" stroke-width="2.0" />
<line x1="583.10" y1="70.28" x2="587.60" y2="70.28" stroke="#000" stroke-width="2.0" />
<line x1="583.10" y1="60.24" x2="587.60" y2="60.24" stroke="#000" stroke-width="2.0" />
<line x1="583.10" y1="50.19" x2="587.60" y2="50.19" stroke="#000" stroke-width="2.0" />
<line x1="583.10" y1="40.15" x2="587.60" y2="40.15" stroke="#000" stroke-width="2.0" />
<rect x="627.20" y="157.80" width="17.90" height="48.10" fill="#d3d3d3" stroke="#000" stroke-width="1.3" />
<rect x="655.60" y="67.50" width="17.90" height="138.40" fill="#d3d3d3" stroke="#000" stroke-width="1.3" />
<line x1="607.30" y1="206.00" x2="607.30" y2="216.80" stroke="#000" stroke-width="2.4" />
<line x1="635.60" y1="206.00" x2="635.60" y2="216.80" stroke="#000" stroke-width="2.4" />
<line x1="664.00" y1="206.00" x2="664.00" y2="216.80" stroke="#000" stroke-width="2.4" />
<circle cx="602.60" cy="205.30" r="4.3" fill="none" stroke="#000" stroke-width="1.3"/>
<circle cx="605.80" cy="205.30" r="4.3" fill="none" stroke="#000" stroke-width="1.3"/>
<circle cx="609.00" cy="205.30" r="4.3" fill="none" stroke="#000" stroke-width="1.3"/>
<circle cx="612.20" cy="205.30" r="4.3" fill="none" stroke="#000" stroke-width="1.3"/>
<circle cx="659.30" cy="61.40" r="4.5" fill="none" stroke="#ff1a1a" stroke-width="1.4"/>
<circle cx="664.80" cy="62.20" r="4.5" fill="none" stroke="#ff1a1a" stroke-width="1.4"/>
<circle cx="669.30" cy="68.60" r="4.5" fill="none" stroke="#ff1a1a" stroke-width="1.4"/>
<circle cx="659.50" cy="74.80" r="4.5" fill="none" stroke="#ff1a1a" stroke-width="1.4"/>
<circle cx="634.40" cy="154.00" r="4.5" fill="none" stroke="#1a2eff" stroke-width="1.4"/>
<circle cx="640.20" cy="154.00" r="4.5" fill="none" stroke="#1a2eff" stroke-width="1.4"/>
<circle cx="631.60" cy="160.90" r="4.5" fill="none" stroke="#1a2eff" stroke-width="1.4"/>
<circle cx="637.20" cy="160.90" r="4.5" fill="none" stroke="#1a2eff" stroke-width="1.4"/>
<path d="M599.5,54.2 V29.6 H657.8 V38" fill="none" stroke="#000" stroke-width="1.2" />
<path d="M634.5,86.3 V55.9 H659.3 V59.8" fill="none" stroke="#000" stroke-width="1.2" />
<path d="M607.2,183.9 V137.8 H635.2 V145.8" fill="none" stroke="#000" stroke-width="1.2" />
<text transform="translate(606.30,26.00)" font-size="14.0" font-weight="bold" font-style="normal" text-anchor="start" fill="#000" textLength="55.4" lengthAdjust="spacingAndGlyphs">p&lt;0.0001</text>
<text transform="translate(613.50,52.50)" font-size="14.0" font-weight="bold" font-style="normal" text-anchor="start" fill="#000" textLength="54.7" lengthAdjust="spacingAndGlyphs">p&lt;0.0001</text>
<text transform="translate(596.60,135.00)" font-size="14.0" font-weight="bold" font-style="normal" text-anchor="start" fill="#000" textLength="55.4" lengthAdjust="spacingAndGlyphs">p&lt;0.0001</text>
<text transform="translate(525.00,14.90)" font-size="20.7" font-weight="bold" font-style="normal" text-anchor="start" fill="#000">f</text>
<text transform="translate(535.10,204.40) rotate(-90)" font-size="15" font-weight="bold" font-style="normal" text-anchor="start" fill="#000" textLength="167.8" lengthAdjust="spacingAndGlyphs">nLuc/21363.6 schizonts</text>
<text transform="translate(611.40,279.80) rotate(-90)" font-size="14.6" font-weight="bold" font-style="normal" text-anchor="start" fill="#000" textLength="52.6" lengthAdjust="spacingAndGlyphs">GDV1 (-)</text>
<text transform="translate(639.40,279.10) rotate(-90)" font-size="14.2" font-weight="bold" font-style="normal" text-anchor="start" fill="#000" textLength="51.2" lengthAdjust="spacingAndGlyphs">AP2-G.L</text>
<text transform="translate(667.90,283.10) rotate(-90)" font-size="14.2" font-weight="bold" font-style="normal" text-anchor="start" fill="#000" textLength="53.2" lengthAdjust="spacingAndGlyphs">AP2-G.V</text>
<text transform="translate(-0.30,291.50)" font-size="20.7" font-weight="bold" font-style="normal" text-anchor="start" fill="#000">b</text>
<text transform="translate(55.40,281.80)" font-size="13" font-weight="bold" font-style="normal" text-anchor="start" fill="#000" textLength="39.5" lengthAdjust="spacingAndGlyphs">Bright</text>
<text transform="translate(145.00,281.80)" font-size="13" font-weight="bold" font-style="normal" text-anchor="start" fill="#000" textLength="52.4" lengthAdjust="spacingAndGlyphs">Hoechst</text>
<text transform="translate(237.20,281.80)" font-size="13" font-weight="bold" font-style="normal" text-anchor="start" fill="#000" textLength="60.7" lengthAdjust="spacingAndGlyphs">tdTomato</text>
<text transform="translate(347.70,281.80)" font-size="13" font-weight="bold" font-style="normal" text-anchor="start" fill="#000" textLength="48.8" lengthAdjust="spacingAndGlyphs">Overlay</text>
<defs>
<filter id="noise" x="0" y="0" width="100%" height="100%" color-interpolation-filters="sRGB">
 <feTurbulence type="fractalNoise" baseFrequency="0.6" numOctaves="1" seed="5" result="t"/>
 <feColorMatrix in="t" type="matrix" values="1 0 0 0 0  1 0 0 0 0  1 0 0 0 0  0 0 0 0 1" result="n"/>
 <feComposite in="SourceGraphic" in2="n" operator="arithmetic" k1="0" k2="1" k3="0.24" k4="-0.12"/>
</filter>
<filter id="b1" x="-50%" y="-50%" width="200%" height="200%"><feGaussianBlur stdDeviation="1.1"/></filter>
<filter id="b15" x="-50%" y="-50%" width="200%" height="200%"><feGaussianBlur stdDeviation="1.6"/></filter>
<filter id="b2" x="-50%" y="-50%" width="200%" height="200%"><feGaussianBlur stdDeviation="2.2"/></filter>
<filter id="b07" x="-50%" y="-50%" width="200%" height="200%"><feGaussianBlur stdDeviation="0.7"/></filter>
<filter id="b05" x="-50%" y="-50%" width="200%" height="200%"><feGaussianBlur stdDeviation="0.5"/></filter>
<radialGradient id="cy" cx="50%" cy="50%" r="50%"><stop offset="0" stop-color="#50d8ff"/><stop offset="0.55" stop-color="#10a8f0"/><stop offset="1" stop-color="#004070" stop-opacity="0"/></radialGradient>
<radialGradient id="org" cx="50%" cy="50%" r="50%"><stop offset="0" stop-color="#fff0a0"/><stop offset="0.35" stop-color="#ffa020"/><stop offset="0.7" stop-color="#e04000"/><stop offset="1" stop-color="#600000" stop-opacity="0"/></radialGradient>
<radialGradient id="wh" cx="50%" cy="50%" r="50%"><stop offset="0" stop-color="#ffffff"/><stop offset="0.5" stop-color="#f0f8ff"/><stop offset="1" stop-color="#a0d0f0" stop-opacity="0"/></radialGradient>
</defs>
<clipPath id="c1"><rect x="31.7" y="283.3" width="96.1" height="98.4"/></clipPath>
<g clip-path="url(#c1)">
<g filter="url(#noise)">
<rect x="31.70" y="283.30" width="96.10" height="98.40" fill="#7b7b7b" stroke="none" stroke-width="1.0" />
<g transform="translate(31.70,283.30)">
<path d="M53.8,14.4 C64,14 72,17 76,21 C81,27 83.5,37 83,46 C83,56 82,64 80,69.4 C77,77 67,84 56.7,84.8 C46,85.5 36,83 30.4,78.2 C24,72 20.5,62 20.2,51.9 C20,42 24,31 30.4,25.5 C37,19 45,14.6 53.8,14.4 Z" fill="#6b6b6b" stroke="#959595" stroke-width="3.0" filter="url(#b1)"/>
<path d="M53.8,14.4 C64,14 72,17 76,21 C81,27 83.5,37 83,46 C83,56 82,64 80,69.4 C77,77 67,84 56.7,84.8 C46,85.5 36,83 30.4,78.2 C24,72 20.5,62 20.2,51.9 C20,42 24,31 30.4,25.5 C37,19 45,14.6 53.8,14.4 Z" transform="translate(52,50) scale(0.9) translate(-52,-50)" fill="none" stroke="#4a4a4a" stroke-width="3.6" filter="url(#b15)"/>
<ellipse transform="translate(53.80,65.30) rotate(0)" rx="12" ry="7" fill="#858585" filter="url(#b2)" opacity="1"/>
<ellipse transform="translate(57.00,31.00) rotate(10)" rx="17" ry="12" fill="#4e4e4e" filter="url(#b2)" opacity="1"/>
<ellipse transform="translate(63.30,31.80) rotate(-15)" rx="6.5" ry="5.8" fill="#141414" filter="url(#b1)" opacity="1"/>
<ellipse transform="translate(60.50,27.50) rotate(0)" rx="3" ry="2.5" fill="#0a0a0a" filter="url(#b07)" opacity="1"/>
<ellipse transform="translate(66.50,35.00) rotate(0)" rx="3" ry="2.5" fill="#0a0a0a" filter="url(#b07)" opacity="1"/>
<ellipse transform="translate(47.90,44.90) rotate(0)" rx="4.5" ry="4" fill="#2e2e2e" filter="url(#b1)" opacity="1"/>
<ellipse transform="translate(61.10,46.90) rotate(15)" rx="4.5" ry="2.8" fill="#262626" filter="url(#b1)" opacity="1"/>
<ellipse transform="translate(54.00,39.00) rotate(0)" rx="3.5" ry="2.5" fill="#8a8a8a" filter="url(#b1)" opacity="1"/>
<path d="M33,38 Q40,52 37,70" fill="none" stroke="#989898" stroke-width="3.4" filter="url(#b1)"/>
<path d="M26,55 Q27,70 33,76 Q40,82 50,81.5 Q60,81 65.5,78" fill="none" stroke="#404040" stroke-width="3.6" filter="url(#b1)"/>
<path d="M40,70 Q48,74 58,71" fill="none" stroke="#999" stroke-width="2.2" filter="url(#b1)"/>
<ellipse transform="translate(75.00,52.00) rotate(-5)" rx="3" ry="11" fill="#525252" filter="url(#b15)" opacity="1"/>
</g>
</g>
</g>
<text x="106.50" y="373.60" font-size="7" font-weight="bold" fill="#fff" textLength="17.5" lengthAdjust="spacingAndGlyphs">2 µm</text>
<path d="M105.30,372.70 V377.90 M105.30,376.40 H125.90 M125.90,372.70 V377.90" fill="none" stroke="#fff" stroke-width="1.1" />
<rect x="131.40" y="283.30" width="96.10" height="98.40" fill="#000" stroke="none" stroke-width="1.0" />
<path d="M178.2,325.8 q3,-5.5 7.5,-2.5 q4.5,3 3.2,8.5 q-1,3 -3.2,1.2 q-1,-4 -4,-4.2 q-3.5,0 -3.5,-3z" fill="#14aaf5" filter="url(#b07)"/>
<ellipse cx="181.9" cy="325.8" rx="3" ry="2" fill="#40d0ff" filter="url(#b07)"/>
<text x="206.20" y="373.60" font-size="7" font-weight="bold" fill="#fff" textLength="17.5" lengthAdjust="spacingAndGlyphs">2 µm</text>
<path d="M205.00,372.70 V377.90 M205.00,376.40 H225.60 M225.60,372.70 V377.90" fill="none" stroke="#fff" stroke-width="1.1" />
<rect x="231.30" y="283.30" width="96.10" height="98.40" fill="#000" stroke="none" stroke-width="1.0" />
<circle cx="278.30" cy="326.60" r="3.8" fill="url(#org)"/>
<circle cx="288.30" cy="327.30" r="3.4" fill="url(#org)"/>
<circle cx="284.10" cy="331.90" r="3.4" fill="url(#org)"/>
<circle cx="282.10" cy="323.10" r="2.0" fill="url(#org)"/>
<text x="306.10" y="373.60" font-size="7" font-weight="bold" fill="#fff" textLength="17.5" lengthAdjust="spacingAndGlyphs">2 µm</text>
<path d="M304.90,372.70 V377.90 M304.90,376.40 H325.50 M325.50,372.70 V377.90" fill="none" stroke="#fff" stroke-width="1.1" />
<clipPath id="c4"><rect x="331.2" y="283.3" width="96.1" height="98.4"/></clipPath>
<g clip-path="url(#c4)">
<g filter="url(#noise)">
<rect x="331.20" y="283.30" width="96.10" height="98.40" fill="#7b7b7b" stroke="none" stroke-width="1.0" />
<g transform="translate(331.20,283.30)">
<path d="M53.8,14.4 C64,14 72,17 76,21 C81,27 83.5,37 83,46 C83,56 82,64 80,69.4 C77,77 67,84 56.7,84.8 C46,85.5 36,83 30.4,78.2 C24,72 20.5,62 20.2,51.9 C20,42 24,31 30.4,25.5 C37,19 45,14.6 53.8,14.4 Z" fill="#6b6b6b" stroke="#959595" stroke-width="3.0" filter="url(#b1)"/>
<path d="M53.8,14.4 C64,14 72,17 76,21 C81,27 83.5,37 83,46 C83,56 82,64 80,69.4 C77,77 67,84 56.7,84.8 C46,85.5 36,83 30.4,78.2 C24,72 20.5,62 20.2,51.9 C20,42 24,31 30.4,25.5 C37,19 45,14.6 53.8,14.4 Z" transform="translate(52,50) scale(0.9) translate(-52,-50)" fill="none" stroke="#4a4a4a" stroke-width="3.6" filter="url(#b15)"/>
<ellipse transform="translate(53.80,65.30) rotate(0)" rx="12" ry="7" fill="#858585" filter="url(#b2)" opacity="1"/>
<ellipse transform="translate(57.00,31.00) rotate(10)" rx="17" ry="12" fill="#4e4e4e" filter="url(#b2)" opacity="1"/>
<ellipse transform="translate(63.30,31.80) rotate(-15)" rx="6.5" ry="5.8" fill="#141414" filter="url(#b1)" opacity="1"/>
<ellipse transform="translate(60.50,27.50) rotate(0)" rx="3" ry="2.5" fill="#0a0a0a" filter="url(#b07)" opacity="1"/>
<ellipse transform="translate(66.50,35.00) rotate(0)" rx="3" ry="2.5" fill="#0a0a0a" filter="url(#b07)" opacity="1"/>
<ellipse transform="translate(47.90,44.90) rotate(0)" rx="4.5" ry="4" fill="#2e2e2e" filter="url(#b1)" opacity="1"/>
<ellipse transform="translate(61.10,46.90) rotate(15)" rx="4.5" ry="2.8" fill="#262626" filter="url(#b1)" opacity="1"/>
<ellipse transform="translate(54.00,39.00) rotate(0)" rx="3.5" ry="2.5" fill="#8a8a8a" filter="url(#b1)" opacity="1"/>
<path d="M33,38 Q40,52 37,70" fill="none" stroke="#989898" stroke-width="3.4" filter="url(#b1)"/>
<path d="M26,55 Q27,70 33,76 Q40,82 50,81.5 Q60,81 65.5,78" fill="none" stroke="#404040" stroke-width="3.6" filter="url(#b1)"/>
<path d="M40,70 Q48,74 58,71" fill="none" stroke="#999" stroke-width="2.2" filter="url(#b1)"/>
<ellipse transform="translate(75.00,52.00) rotate(-5)" rx="3" ry="11" fill="#525252" filter="url(#b15)" opacity="1"/>
</g>
</g>
</g>
<path d="M378.0,325.8 q3,-5.5 7.5,-2.5 q4.5,3 3.2,8.5 q-1,3 -3.2,1.2 q-1,-4 -4,-4.2 q-3.5,0 -3.5,-3z" fill="#a8e8ff" filter="url(#b07)"/>
<circle cx="382.70" cy="326.30" r="3.6" fill="url(#wh)"/>
<circle cx="383.20" cy="331.50" r="3.2" fill="url(#wh)"/>
<circle cx="378.70" cy="326.80" r="3.0" fill="url(#wh)"/>
<circle cx="387.20" cy="327.30" r="3.0" fill="url(#wh)"/>
<circle cx="382.20" cy="322.80" r="2.4" fill="url(#wh)"/>
<ellipse cx="375.80" cy="327.50" rx="2.2" ry="1.8" fill="#ff9a60" opacity="0.85" filter="url(#b05)"/>
<ellipse cx="389.80" cy="326.90" rx="2.0" ry="1.7" fill="#ff8a50" opacity="0.85" filter="url(#b05)"/>
<circle cx="382.70" cy="327.80" r="2.2" fill="#60c8f0" opacity="0.6" filter="url(#b05)"/>
<text x="406.00" y="373.60" font-size="7" font-weight="bold" fill="#fff" textLength="17.5" lengthAdjust="spacingAndGlyphs">2 µm</text>
<path d="M404.80,372.70 V377.90 M404.80,376.40 H425.40 M425.40,372.70 V377.90" fill="none" stroke="#fff" stroke-width="1.1" />
<text transform="translate(432.90,326.00)" font-size="13.2" font-weight="normal" font-style="italic" text-anchor="start" fill="#000" textLength="96.7" lengthAdjust="spacingAndGlyphs">683.gdv1.tdTo</text>
<text transform="translate(432.90,342.90)" font-size="13.2" font-weight="normal" font-style="italic" text-anchor="start" fill="#000" textLength="65.3" lengthAdjust="spacingAndGlyphs">mato.fkbp</text>
<text transform="translate(432.40,358.00)" font-size="13.2" font-weight="normal" font-style="normal" text-anchor="start" fill="#000" textLength="57.8" lengthAdjust="spacingAndGlyphs">(Shld1+)</text>
<rect x="85.60" y="550.80" width="14.00" height="8.70" fill="#d3d3d3" stroke="#000" stroke-width="1.4" />
<rect x="107.90" y="532.30" width="14.00" height="27.20" fill="#d3d3d3" stroke="#000" stroke-width="1.4" />
<rect x="130.00" y="552.00" width="14.00" height="7.50" fill="#d3d3d3" stroke="#000" stroke-width="1.4" />
<rect x="152.60" y="519.30" width="14.00" height="40.20" fill="#d3d3d3" stroke="#000" stroke-width="1.4" />
<rect x="175.00" y="522.10" width="14.00" height="37.40" fill="#d3d3d3" stroke="#000" stroke-width="1.4" />
<line x1="114.90" y1="532.30" x2="114.90" y2="529.00" stroke="#ff1a1a" stroke-width="1.3" />
<line x1="111.80" y1="529.00" x2="118.00" y2="529.00" stroke="#ff1a1a" stroke-width="1.3" />
<line x1="159.60" y1="519.30" x2="159.60" y2="511.20" stroke="#ff1a1a" stroke-width="1.3" />
<line x1="156.50" y1="511.20" x2="162.70" y2="511.20" stroke="#ff1a1a" stroke-width="1.3" />
<line x1="182.00" y1="522.10" x2="182.00" y2="515.20" stroke="#ff1a1a" stroke-width="1.3" />
<line x1="178.90" y1="515.20" x2="185.10" y2="515.20" stroke="#ff1a1a" stroke-width="1.3" />
<circle cx="92.60" cy="550.60" r="6.3" fill="none" stroke="#1a2eff" stroke-width="2.3"/>
<circle cx="92.60" cy="552.90" r="6.3" fill="none" stroke="#1a2eff" stroke-width="2.3"/>
<circle cx="137.20" cy="550.10" r="6.3" fill="none" stroke="#1a2eff" stroke-width="2.3"/>
<circle cx="114.00" cy="530.20" r="5.9" fill="none" stroke="#ff1a1a" stroke-width="1.45"/>
<circle cx="115.60" cy="529.60" r="5.9" fill="none" stroke="#ff1a1a" stroke-width="1.45"/>
<circle cx="115.80" cy="539.40" r="5.9" fill="none" stroke="#ff1a1a" stroke-width="1.45"/>
<circle cx="159.70" cy="475.80" r="5.9" fill="none" stroke="#ff1a1a" stroke-width="1.45"/>
<circle cx="159.60" cy="506.20" r="5.9" fill="none" stroke="#ff1a1a" stroke-width="1.45"/>
<circle cx="160.00" cy="509.00" r="5.9" fill="none" stroke="#ff1a1a" stroke-width="1.45"/>
<circle cx="159.50" cy="532.00" r="5.9" fill="none" stroke="#ff1a1a" stroke-width="1.45"/>
<circle cx="158.50" cy="535.00" r="5.9" fill="none" stroke="#ff1a1a" stroke-width="1.45"/>
<circle cx="159.00" cy="538.00" r="5.9" fill="none" stroke="#ff1a1a" stroke-width="1.45"/>
<circle cx="181.90" cy="497.10" r="5.9" fill="none" stroke="#ff1a1a" stroke-width="1.45"/>
<circle cx="182.40" cy="498.00" r="5.9" fill="none" stroke="#ff1a1a" stroke-width="1.45"/>
<circle cx="181.90" cy="515.90" r="5.9" fill="none" stroke="#ff1a1a" stroke-width="1.45"/>
<circle cx="182.50" cy="532.60" r="5.9" fill="none" stroke="#ff1a1a" stroke-width="1.45"/>
<circle cx="181.50" cy="535.40" r="5.9" fill="none" stroke="#ff1a1a" stroke-width="1.45"/>
<circle cx="180.30" cy="539.40" r="5.9" fill="none" stroke="#ff1a1a" stroke-width="1.45"/>
<circle cx="182.50" cy="530.50" r="5.9" fill="none" stroke="#ff1a1a" stroke-width="1.45"/>
<line x1="77.60" y1="416.00" x2="77.60" y2="560.50" stroke="#000" stroke-width="2.1" />
<line x1="76.60" y1="559.50" x2="197.00" y2="559.50" stroke="#000" stroke-width="2.3" />
<line x1="67.90" y1="559.50" x2="77.60" y2="559.50" stroke="#000" stroke-width="1.9" />
<text transform="translate(64.80,565.33)" font-size="16.2" font-weight="normal" font-style="normal" text-anchor="end" fill="#000">0</text>
<line x1="72.40" y1="550.00" x2="77.60" y2="550.00" stroke="#000" stroke-width="1.9" />
<line x1="72.40" y1="540.50" x2="77.60" y2="540.50" stroke="#000" stroke-width="1.9" />
<line x1="72.40" y1="531.00" x2="77.60" y2="531.00" stroke="#000" stroke-width="1.9" />
<line x1="72.40" y1="521.50" x2="77.60" y2="521.50" stroke="#000" stroke-width="1.9" />
<line x1="67.90" y1="512.00" x2="77.60" y2="512.00" stroke="#000" stroke-width="1.9" />
<text transform="translate(64.80,517.83)" font-size="16.2" font-weight="normal" font-style="normal" text-anchor="end" fill="#000">5</text>
<line x1="72.40" y1="502.50" x2="77.60" y2="502.50" stroke="#000" stroke-width="1.9" />
<line x1="72.40" y1="493.00" x2="77.60" y2="493.00" stroke="#000" stroke-width="1.9" />
<line x1="72.40" y1="483.50" x2="77.60" y2="483.50" stroke="#000" stroke-width="1.9" />
<line x1="72.40" y1="474.00" x2="77.60" y2="474.00" stroke="#000" stroke-width="1.9" />
<line x1="67.90" y1="464.50" x2="77.60" y2="464.50" stroke="#000" stroke-width="1.9" />
<text transform="translate(64.80,470.33)" font-size="16.2" font-weight="normal" font-style="normal" text-anchor="end" fill="#000">10</text>
<line x1="72.40" y1="455.00" x2="77.60" y2="455.00" stroke="#000" stroke-width="1.9" />
<line x1="72.40" y1="445.50" x2="77.60" y2="445.50" stroke="#000" stroke-width="1.9" />
<line x1="72.40" y1="436.00" x2="77.60" y2="436.00" stroke="#000" stroke-width="1.9" />
<line x1="72.40" y1="426.50" x2="77.60" y2="426.50" stroke="#000" stroke-width="1.9" />
<line x1="67.90" y1="417.00" x2="77.60" y2="417.00" stroke="#000" stroke-width="1.9" />
<text transform="translate(64.80,422.83)" font-size="16.2" font-weight="normal" font-style="normal" text-anchor="end" fill="#000">15</text>
<line x1="92.40" y1="559.50" x2="92.40" y2="569.40" stroke="#000" stroke-width="2.0" />
<line x1="114.60" y1="559.50" x2="114.60" y2="569.40" stroke="#000" stroke-width="2.0" />
<line x1="136.80" y1="559.50" x2="136.80" y2="569.40" stroke="#000" stroke-width="2.0" />
<line x1="159.20" y1="559.50" x2="159.20" y2="569.40" stroke="#000" stroke-width="2.0" />
<line x1="181.60" y1="559.50" x2="181.60" y2="569.40" stroke="#000" stroke-width="2.0" />
<path d="M86.1,452.3 V440.3 H114 V455.1" fill="none" stroke="#000" stroke-width="1.2" />
<path d="M132.6,499.3 V458.9 H175.3 V466.1" fill="none" stroke="#000" stroke-width="1.2" />
<path d="M156.4,466.1 H187.7" fill="none" stroke="#000" stroke-width="1.2" />
<text transform="translate(84.20,433.70)" font-size="13" font-weight="bold" font-style="normal" text-anchor="start" fill="#000" textLength="55.999999999999986" lengthAdjust="spacingAndGlyphs">p=0.0013</text>
<text transform="translate(132.60,453.20)" font-size="13" font-weight="bold" font-style="normal" text-anchor="start" fill="#000" textLength="57.0" lengthAdjust="spacingAndGlyphs">p=0.0006</text>
<text transform="translate(78.50,583.80)" font-size="13.0" font-weight="bold" font-style="normal" text-anchor="start" fill="#000" textLength="13.299999999999997" lengthAdjust="spacingAndGlyphs">L1</text>
<text transform="translate(101.30,583.80)" font-size="13.0" font-weight="bold" font-style="normal" text-anchor="start" fill="#000" textLength="15.200000000000003" lengthAdjust="spacingAndGlyphs">V1</text>
<text transform="translate(126.00,583.80)" font-size="13.0" font-weight="bold" font-style="normal" text-anchor="start" fill="#000" textLength="14.199999999999989" lengthAdjust="spacingAndGlyphs">L2</text>
<text transform="translate(148.80,583.80)" font-size="13.0" font-weight="bold" font-style="normal" text-anchor="start" fill="#000" textLength="16.099999999999994" lengthAdjust="spacingAndGlyphs">V2</text>
<text transform="translate(173.40,583.80)" font-size="13.0" font-weight="bold" font-style="normal" text-anchor="start" fill="#000" textLength="16.19999999999999" lengthAdjust="spacingAndGlyphs">V3</text>
<line x1="77.20" y1="589.20" x2="118.40" y2="589.20" stroke="#000" stroke-width="1.4" />
<line x1="125.00" y1="589.20" x2="191.50" y2="589.20" stroke="#000" stroke-width="1.4" />
<text transform="translate(80.40,606.20)" font-size="13.0" font-weight="bold" font-style="normal" text-anchor="start" fill="#000" textLength="32.3" lengthAdjust="spacingAndGlyphs">NF54</text>
<text transform="translate(146.90,606.20)" font-size="13.0" font-weight="bold" font-style="normal" text-anchor="start" fill="#000" textLength="22.69999999999999" lengthAdjust="spacingAndGlyphs">3D7</text>
<text transform="translate(38.00,566.40) rotate(-90)" font-size="16.6" font-weight="bold" font-style="normal" text-anchor="start" fill="#000" textLength="155.29999999999995" lengthAdjust="spacingAndGlyphs">nLuc (Fold Change)</text>
<text transform="translate(-0.50,409.70)" font-size="20.7" font-weight="bold" font-style="normal" text-anchor="start" fill="#000">c</text>
<rect x="297.30" y="548.60" width="14.00" height="9.70" fill="#d3d3d3" stroke="#000" stroke-width="1.4" />
<rect x="319.70" y="520.00" width="14.00" height="38.30" fill="#d3d3d3" stroke="#000" stroke-width="1.4" />
<rect x="341.90" y="548.60" width="14.00" height="9.70" fill="#d3d3d3" stroke="#000" stroke-width="1.4" />
<rect x="364.40" y="480.60" width="14.00" height="77.70" fill="#d3d3d3" stroke="#000" stroke-width="1.4" />
<rect x="386.70" y="467.50" width="14.00" height="90.80" fill="#d3d3d3" stroke="#000" stroke-width="1.4" />
<line x1="371.40" y1="480.60" x2="371.40" y2="472.50" stroke="#ff1a1a" stroke-width="1.3" />
<line x1="368.30" y1="472.50" x2="374.50" y2="472.50" stroke="#ff1a1a" stroke-width="1.3" />
<line x1="393.70" y1="467.50" x2="393.70" y2="457.80" stroke="#ff1a1a" stroke-width="1.3" />
<line x1="390.60" y1="457.80" x2="396.80" y2="457.80" stroke="#ff1a1a" stroke-width="1.3" />
<circle cx="304.30" cy="549.40" r="6.1" fill="none" stroke="#1a2eff" stroke-width="2.3"/>
<circle cx="305.30" cy="551.50" r="6.1" fill="none" stroke="#1a2eff" stroke-width="2.3"/>
<circle cx="349.30" cy="549.40" r="6.1" fill="none" stroke="#1a2eff" stroke-width="2.3"/>
<circle cx="349.30" cy="549.60" r="6.1" fill="none" stroke="#1a2eff" stroke-width="2.3"/>
<circle cx="328.00" cy="509.50" r="5.9" fill="none" stroke="#ff1a1a" stroke-width="1.45"/>
<circle cx="326.70" cy="513.50" r="5.9" fill="none" stroke="#ff1a1a" stroke-width="1.45"/>
<circle cx="328.50" cy="517.50" r="5.9" fill="none" stroke="#ff1a1a" stroke-width="1.45"/>
<circle cx="326.00" cy="521.50" r="5.9" fill="none" stroke="#ff1a1a" stroke-width="1.45"/>
<circle cx="328.50" cy="524.00" r="5.9" fill="none" stroke="#ff1a1a" stroke-width="1.45"/>
<circle cx="325.50" cy="526.50" r="5.9" fill="none" stroke="#ff1a1a" stroke-width="1.45"/>
<circle cx="370.10" cy="451.00" r="5.9" fill="none" stroke="#ff1a1a" stroke-width="1.45"/>
<circle cx="374.00" cy="458.80" r="5.9" fill="none" stroke="#ff1a1a" stroke-width="1.45"/>
<circle cx="369.80" cy="462.60" r="5.9" fill="none" stroke="#ff1a1a" stroke-width="1.45"/>
<circle cx="372.70" cy="472.80" r="5.9" fill="none" stroke="#ff1a1a" stroke-width="1.45"/>
<circle cx="370.60" cy="482.50" r="5.9" fill="none" stroke="#ff1a1a" stroke-width="1.45"/>
<circle cx="371.40" cy="509.50" r="5.9" fill="none" stroke="#ff1a1a" stroke-width="1.45"/>
<circle cx="370.60" cy="523.50" r="5.9" fill="none" stroke="#ff1a1a" stroke-width="1.45"/>
<circle cx="393.70" cy="425.50" r="5.9" fill="none" stroke="#ff1a1a" stroke-width="1.45"/>
<circle cx="392.40" cy="445.20" r="5.9" fill="none" stroke="#ff1a1a" stroke-width="1.45"/>
<circle cx="395.00" cy="446.50" r="5.9" fill="none" stroke="#ff1a1a" stroke-width="1.45"/>
<circle cx="393.20" cy="457.80" r="5.9" fill="none" stroke="#ff1a1a" stroke-width="1.45"/>
<circle cx="394.00" cy="468.70" r="5.9" fill="none" stroke="#ff1a1a" stroke-width="1.45"/>
<circle cx="393.70" cy="513.00" r="5.9" fill="none" stroke="#ff1a1a" stroke-width="1.45"/>
<circle cx="391.90" cy="515.60" r="5.9" fill="none" stroke="#ff1a1a" stroke-width="1.45"/>
<line x1="289.90" y1="414.69" x2="289.90" y2="559.30" stroke="#000" stroke-width="2.1" />
<line x1="288.90" y1="558.30" x2="409.50" y2="558.30" stroke="#000" stroke-width="2.3" />
<line x1="279.60" y1="558.30" x2="289.90" y2="558.30" stroke="#000" stroke-width="1.9" />
<text transform="translate(276.60,563.45)" font-size="14.3" font-weight="normal" font-style="normal" text-anchor="end" fill="#000">0</text>
<line x1="284.30" y1="548.79" x2="289.90" y2="548.79" stroke="#000" stroke-width="1.9" />
<line x1="284.30" y1="539.29" x2="289.90" y2="539.29" stroke="#000" stroke-width="1.9" />
<line x1="284.30" y1="529.78" x2="289.90" y2="529.78" stroke="#000" stroke-width="1.9" />
<line x1="284.30" y1="520.27" x2="289.90" y2="520.27" stroke="#000" stroke-width="1.9" />
<line x1="279.60" y1="510.76" x2="289.90" y2="510.76" stroke="#000" stroke-width="1.9" />
<text transform="translate(276.60,515.91)" font-size="14.3" font-weight="normal" font-style="normal" text-anchor="end" fill="#000">5</text>
<line x1="284.30" y1="501.26" x2="289.90" y2="501.26" stroke="#000" stroke-width="1.9" />
<line x1="284.30" y1="491.75" x2="289.90" y2="491.75" stroke="#000" stroke-width="1.9" />
<line x1="284.30" y1="482.24" x2="289.90" y2="482.24" stroke="#000" stroke-width="1.9" />
<line x1="284.30" y1="472.74" x2="289.90" y2="472.74" stroke="#000" stroke-width="1.9" />
<line x1="279.60" y1="463.23" x2="289.90" y2="463.23" stroke="#000" stroke-width="1.9" />
<text transform="translate(276.60,468.38)" font-size="14.3" font-weight="normal" font-style="normal" text-anchor="end" fill="#000">10</text>
<line x1="284.30" y1="453.72" x2="289.90" y2="453.72" stroke="#000" stroke-width="1.9" />
<line x1="284.30" y1="444.22" x2="289.90" y2="444.22" stroke="#000" stroke-width="1.9" />
<line x1="284.30" y1="434.71" x2="289.90" y2="434.71" stroke="#000" stroke-width="1.9" />
<line x1="284.30" y1="425.20" x2="289.90" y2="425.20" stroke="#000" stroke-width="1.9" />
<line x1="279.60" y1="415.69" x2="289.90" y2="415.69" stroke="#000" stroke-width="1.9" />
<text transform="translate(276.60,420.84)" font-size="14.3" font-weight="normal" font-style="normal" text-anchor="end" fill="#000">15</text>
<line x1="304.10" y1="558.30" x2="304.10" y2="568.70" stroke="#000" stroke-width="2.0" />
<line x1="326.50" y1="558.30" x2="326.50" y2="568.70" stroke="#000" stroke-width="2.0" />
<line x1="348.70" y1="558.30" x2="348.70" y2="568.70" stroke="#000" stroke-width="2.0" />
<line x1="371.50" y1="558.30" x2="371.50" y2="568.70" stroke="#000" stroke-width="2.0" />
<line x1="393.50" y1="558.30" x2="393.50" y2="568.70" stroke="#000" stroke-width="2.0" />
<path d="M302.5,531.9 V464.1 H328.8 V475.4" fill="none" stroke="#000" stroke-width="1.2" />
<path d="M347.2,441.2 V408.4 H392.4 V415.7" fill="none" stroke="#000" stroke-width="1.2" />
<path d="M362.2,415.7 H402.9" fill="none" stroke="#000" stroke-width="1.2" />
<text transform="translate(296.50,458.80)" font-size="13" font-weight="bold" font-style="normal" text-anchor="start" fill="#000" textLength="57.0" lengthAdjust="spacingAndGlyphs">p=0.0079</text>
<text transform="translate(342.50,403.10)" font-size="13" font-weight="bold" font-style="normal" text-anchor="start" fill="#000" textLength="57.19999999999999" lengthAdjust="spacingAndGlyphs">p=0.0006</text>
<text transform="translate(293.70,583.80)" font-size="13.0" font-weight="bold" font-style="normal" text-anchor="start" fill="#000" textLength="13.800000000000011" lengthAdjust="spacingAndGlyphs">L1</text>
<text transform="translate(316.40,583.80)" font-size="13.0" font-weight="bold" font-style="normal" text-anchor="start" fill="#000" textLength="15.200000000000045" lengthAdjust="spacingAndGlyphs">V1</text>
<text transform="translate(341.10,583.80)" font-size="13.0" font-weight="bold" font-style="normal" text-anchor="start" fill="#000" textLength="14.799999999999955" lengthAdjust="spacingAndGlyphs">L2</text>
<text transform="translate(364.50,583.80)" font-size="13.0" font-weight="bold" font-style="normal" text-anchor="start" fill="#000" textLength="15.699999999999989" lengthAdjust="spacingAndGlyphs">V2</text>
<text transform="translate(388.60,583.80)" font-size="13.0" font-weight="bold" font-style="normal" text-anchor="start" fill="#000" textLength="16.299999999999955" lengthAdjust="spacingAndGlyphs">V3</text>
<line x1="292.90" y1="589.20" x2="334.10" y2="589.20" stroke="#000" stroke-width="1.4" />
<line x1="340.40" y1="589.20" x2="406.80" y2="589.20" stroke="#000" stroke-width="1.4" />
<text transform="translate(296.10,606.20)" font-size="13.0" font-weight="bold" font-style="normal" text-anchor="start" fill="#000" textLength="32.299999999999955" lengthAdjust="spacingAndGlyphs">NF54</text>
<text transform="translate(362.60,606.20)" font-size="13.0" font-weight="bold" font-style="normal" text-anchor="start" fill="#000" textLength="22.69999999999999" lengthAdjust="spacingAndGlyphs">3D7</text>
<text transform="translate(254.00,567.40) rotate(-90)" font-size="16.5" font-weight="bold" font-style="normal" text-anchor="start" fill="#000" textLength="151.2" lengthAdjust="spacingAndGlyphs">nLuc (Fold Change)</text>
<text transform="translate(216.00,409.70)" font-size="20.7" font-weight="bold" font-style="normal" text-anchor="start" fill="#000">d</text>
<rect x="552.40" y="511.20" width="13.80" height="47.20" fill="#d3d3d3" stroke="#000" stroke-width="1.4" />
<rect x="597.20" y="462.30" width="13.80" height="96.10" fill="#d3d3d3" stroke="#000" stroke-width="1.4" />
<rect x="619.60" y="468.50" width="13.80" height="89.90" fill="#d3d3d3" stroke="#000" stroke-width="1.4" />
<line x1="559.30" y1="511.20" x2="559.30" y2="503.90" stroke="#ff1a1a" stroke-width="1.3" />
<line x1="556.20" y1="503.90" x2="562.40" y2="503.90" stroke="#ff1a1a" stroke-width="1.3" />
<line x1="604.10" y1="462.30" x2="604.10" y2="453.60" stroke="#ff1a1a" stroke-width="1.3" />
<line x1="626.50" y1="468.50" x2="626.50" y2="455.00" stroke="#ff1a1a" stroke-width="1.3" />
<line x1="623.40" y1="455.00" x2="629.60" y2="455.00" stroke="#ff1a1a" stroke-width="1.3" />
<circle cx="537.40" cy="558.40" r="6.3" fill="none" stroke="#1a2eff" stroke-width="2.6"/>
<circle cx="581.40" cy="558.40" r="6.3" fill="none" stroke="#1a2eff" stroke-width="2.6"/>
<circle cx="559.00" cy="489.80" r="6.0" fill="none" stroke="#ff1a1a" stroke-width="1.45"/>
<circle cx="559.00" cy="498.80" r="6.0" fill="none" stroke="#ff1a1a" stroke-width="1.45"/>
<circle cx="560.40" cy="515.60" r="6.0" fill="none" stroke="#ff1a1a" stroke-width="1.45"/>
<circle cx="561.20" cy="521.50" r="6.0" fill="none" stroke="#ff1a1a" stroke-width="1.45"/>
<circle cx="558.20" cy="526.60" r="6.0" fill="none" stroke="#ff1a1a" stroke-width="1.45"/>
<circle cx="603.80" cy="432.80" r="6.0" fill="none" stroke="#ff1a1a" stroke-width="1.45"/>
<circle cx="603.80" cy="445.50" r="6.0" fill="none" stroke="#ff1a1a" stroke-width="1.45"/>
<circle cx="603.80" cy="447.00" r="6.0" fill="none" stroke="#ff1a1a" stroke-width="1.45"/>
<circle cx="603.80" cy="457.20" r="6.0" fill="none" stroke="#ff1a1a" stroke-width="1.45"/>
<circle cx="607.20" cy="458.70" r="6.0" fill="none" stroke="#ff1a1a" stroke-width="1.45"/>
<circle cx="603.80" cy="494.50" r="6.0" fill="none" stroke="#ff1a1a" stroke-width="1.45"/>
<circle cx="603.80" cy="493.00" r="6.0" fill="none" stroke="#ff1a1a" stroke-width="1.45"/>
<circle cx="626.10" cy="430.50" r="6.0" fill="none" stroke="#ff1a1a" stroke-width="1.45"/>
<circle cx="628.30" cy="438.70" r="6.0" fill="none" stroke="#ff1a1a" stroke-width="1.45"/>
<circle cx="625.40" cy="442.60" r="6.0" fill="none" stroke="#ff1a1a" stroke-width="1.45"/>
<circle cx="626.10" cy="466.40" r="6.0" fill="none" stroke="#ff1a1a" stroke-width="1.45"/>
<circle cx="626.10" cy="474.30" r="6.0" fill="none" stroke="#ff1a1a" stroke-width="1.45"/>
<circle cx="626.10" cy="503.50" r="6.0" fill="none" stroke="#ff1a1a" stroke-width="1.45"/>
<circle cx="626.10" cy="520.70" r="6.0" fill="none" stroke="#ff1a1a" stroke-width="1.45"/>
<line x1="522.30" y1="414.90" x2="522.30" y2="559.40" stroke="#000" stroke-width="2.1" />
<line x1="521.30" y1="558.40" x2="641.30" y2="558.40" stroke="#000" stroke-width="2.3" />
<line x1="512.30" y1="558.40" x2="522.30" y2="558.40" stroke="#000" stroke-width="1.9" />
<text transform="translate(509.00,563.55)" font-size="14.3" font-weight="normal" font-style="normal" text-anchor="end" fill="#000">0</text>
<line x1="517.20" y1="552.70" x2="522.30" y2="552.70" stroke="#000" stroke-width="1.9" />
<line x1="517.20" y1="547.00" x2="522.30" y2="547.00" stroke="#000" stroke-width="1.9" />
<line x1="517.20" y1="541.30" x2="522.30" y2="541.30" stroke="#000" stroke-width="1.9" />
<line x1="517.20" y1="535.60" x2="522.30" y2="535.60" stroke="#000" stroke-width="1.9" />
<line x1="512.30" y1="529.90" x2="522.30" y2="529.90" stroke="#000" stroke-width="1.9" />
<text transform="translate(509.00,535.05)" font-size="14.3" font-weight="normal" font-style="normal" text-anchor="end" fill="#000">5</text>
<line x1="517.20" y1="524.20" x2="522.30" y2="524.20" stroke="#000" stroke-width="1.9" />
<line x1="517.20" y1="518.50" x2="522.30" y2="518.50" stroke="#000" stroke-width="1.9" />
<line x1="517.20" y1="512.80" x2="522.30" y2="512.80" stroke="#000" stroke-width="1.9" />
<line x1="517.20" y1="507.10" x2="522.30" y2="507.10" stroke="#000" stroke-width="1.9" />
<line x1="512.30" y1="501.40" x2="522.30" y2="501.40" stroke="#000" stroke-width="1.9" />
<text transform="translate(509.00,506.55)" font-size="14.3" font-weight="normal" font-style="normal" text-anchor="end" fill="#000">10</text>
<line x1="517.20" y1="495.70" x2="522.30" y2="495.70" stroke="#000" stroke-width="1.9" />
<line x1="517.20" y1="490.00" x2="522.30" y2="490.00" stroke="#000" stroke-width="1.9" />
<line x1="517.20" y1="484.30" x2="522.30" y2="484.30" stroke="#000" stroke-width="1.9" />
<line x1="517.20" y1="478.60" x2="522.30" y2="478.60" stroke="#000" stroke-width="1.9" />
<line x1="512.30" y1="472.90" x2="522.30" y2="472.90" stroke="#000" stroke-width="1.9" />
<text transform="translate(509.00,478.05)" font-size="14.3" font-weight="normal" font-style="normal" text-anchor="end" fill="#000">15</text>
<line x1="517.20" y1="467.20" x2="522.30" y2="467.20" stroke="#000" stroke-width="1.9" />
<line x1="517.20" y1="461.50" x2="522.30" y2="461.50" stroke="#000" stroke-width="1.9" />
<line x1="517.20" y1="455.80" x2="522.30" y2="455.80" stroke="#000" stroke-width="1.9" />
<line x1="517.20" y1="450.10" x2="522.30" y2="450.10" stroke="#000" stroke-width="1.9" />
<line x1="512.30" y1="444.40" x2="522.30" y2="444.40" stroke="#000" stroke-width="1.9" />
<text transform="translate(509.00,449.55)" font-size="14.3" font-weight="normal" font-style="normal" text-anchor="end" fill="#000">20</text>
<line x1="517.20" y1="438.70" x2="522.30" y2="438.70" stroke="#000" stroke-width="1.9" />
<line x1="517.20" y1="433.00" x2="522.30" y2="433.00" stroke="#000" stroke-width="1.9" />
<line x1="517.20" y1="427.30" x2="522.30" y2="427.30" stroke="#000" stroke-width="1.9" />
<line x1="517.20" y1="421.60" x2="522.30" y2="421.60" stroke="#000" stroke-width="1.9" />
<line x1="512.30" y1="415.90" x2="522.30" y2="415.90" stroke="#000" stroke-width="1.9" />
<text transform="translate(509.00,421.05)" font-size="14.3" font-weight="normal" font-style="normal" text-anchor="end" fill="#000">25</text>
<line x1="537.20" y1="558.40" x2="537.20" y2="568.60" stroke="#000" stroke-width="2.0" />
<line x1="559.20" y1="558.40" x2="559.20" y2="568.60" stroke="#000" stroke-width="2.0" />
<line x1="581.40" y1="558.40" x2="581.40" y2="568.60" stroke="#000" stroke-width="2.0" />
<line x1="603.80" y1="558.40" x2="603.80" y2="568.60" stroke="#000" stroke-width="2.0" />
<line x1="626.00" y1="558.40" x2="626.00" y2="568.60" stroke="#000" stroke-width="2.0" />
<path d="M538.8,545 V466.9 H566.3 V469.8" fill="none" stroke="#000" stroke-width="1.2" />
<path d="M580.2,443.2 V415 H616.3 V418.4" fill="none" stroke="#000" stroke-width="1.2" />
<path d="M595.8,418.4 H633.4" fill="none" stroke="#000" stroke-width="1.2" />
<text transform="translate(531.50,463.00)" font-size="13" font-weight="bold" font-style="normal" text-anchor="start" fill="#000" textLength="57.200000000000045" lengthAdjust="spacingAndGlyphs">p=0.0079</text>
<text transform="translate(572.50,412.30)" font-size="13" font-weight="bold" font-style="normal" text-anchor="start" fill="#000" textLength="57.0" lengthAdjust="spacingAndGlyphs">P=0.0002</text>
<text transform="translate(527.30,581.30)" font-size="13.0" font-weight="bold" font-style="normal" text-anchor="start" fill="#000" textLength="13.300000000000068" lengthAdjust="spacingAndGlyphs">L1</text>
<text transform="translate(550.10,581.30)" font-size="13.0" font-weight="bold" font-style="normal" text-anchor="start" fill="#000" textLength="15.199999999999932" lengthAdjust="spacingAndGlyphs">V1</text>
<text transform="translate(574.80,581.30)" font-size="13.0" font-weight="bold" font-style="normal" text-anchor="start" fill="#000" textLength="14.600000000000023" lengthAdjust="spacingAndGlyphs">L2</text>
<text transform="translate(598.10,581.30)" font-size="13.0" font-weight="bold" font-style="normal" text-anchor="start" fill="#000" textLength="16.0" lengthAdjust="spacingAndGlyphs">V2</text>
<text transform="translate(622.20,581.30)" font-size="13.0" font-weight="bold" font-style="normal" text-anchor="start" fill="#000" textLength="16.199999999999932" lengthAdjust="spacingAndGlyphs">V3</text>
<line x1="526.00" y1="586.60" x2="567.20" y2="586.60" stroke="#000" stroke-width="1.4" />
<line x1="573.80" y1="586.60" x2="640.60" y2="586.60" stroke="#000" stroke-width="1.4" />
<text transform="translate(529.80,603.50)" font-size="13.0" font-weight="bold" font-style="normal" text-anchor="start" fill="#000" textLength="31.700000000000045" lengthAdjust="spacingAndGlyphs">NF54</text>
<text transform="translate(595.70,603.50)" font-size="13.0" font-weight="bold" font-style="normal" text-anchor="start" fill="#000" textLength="23.699999999999932" lengthAdjust="spacingAndGlyphs">3D7</text>
<text transform="translate(482.00,518.10) rotate(-90)" font-size="14.7" font-weight="bold" font-style="normal" text-anchor="start" fill="#000" textLength="59.60000000000002" lengthAdjust="spacingAndGlyphs">GCR (%)</text>
<text transform="translate(460.00,409.70)" font-size="20.7" font-weight="bold" font-style="normal" text-anchor="start" fill="#000">e</text>
<path d="M133.0,845.0 V686.5 H262.6 V845.0 M133,845 H262.6" fill="none" stroke="#9a9a9a" stroke-width="0.9" stroke-dasharray="3,2.2"/>
<path d="M365.6,845.0 V687.5 H500.3 V845.0 M365.6,845 H500.3" fill="none" stroke="#9a9a9a" stroke-width="0.9" stroke-dasharray="3,2.2"/>
<line x1="119.30" y1="830.20" x2="126.50" y2="830.20" stroke="#8a8a8a" stroke-width="1.0" />
<line x1="120.70" y1="828.00" x2="125.10" y2="828.00" stroke="#b0b0b0" stroke-width="0.8" />
<line x1="120.70" y1="832.40" x2="125.10" y2="832.40" stroke="#b0b0b0" stroke-width="0.8" />
<rect x="118.00" y="825.30" width="9.80" height="9.80" fill="none" stroke="#111" stroke-width="1.35" />
<line x1="135.70" y1="815.00" x2="142.90" y2="815.00" stroke="#8a8a8a" stroke-width="1.0" />
<line x1="137.10" y1="812.80" x2="141.50" y2="812.80" stroke="#b0b0b0" stroke-width="0.8" />
<line x1="137.10" y1="817.20" x2="141.50" y2="817.20" stroke="#b0b0b0" stroke-width="0.8" />
<rect x="134.40" y="810.10" width="9.80" height="9.80" fill="none" stroke="#111" stroke-width="1.35" />
<line x1="152.50" y1="817.80" x2="159.70" y2="817.80" stroke="#8a8a8a" stroke-width="1.0" />
<line x1="153.90" y1="815.60" x2="158.30" y2="815.60" stroke="#b0b0b0" stroke-width="0.8" />
<line x1="153.90" y1="820.00" x2="158.30" y2="820.00" stroke="#b0b0b0" stroke-width="0.8" />
<rect x="151.20" y="812.90" width="9.80" height="9.80" fill="none" stroke="#111" stroke-width="1.35" />
<line x1="169.10" y1="806.20" x2="176.30" y2="806.20" stroke="#8a8a8a" stroke-width="1.0" />
<line x1="170.50" y1="804.00" x2="174.90" y2="804.00" stroke="#b0b0b0" stroke-width="0.8" />
<line x1="170.50" y1="808.40" x2="174.90" y2="808.40" stroke="#b0b0b0" stroke-width="0.8" />
<rect x="167.80" y="801.30" width="9.80" height="9.80" fill="none" stroke="#111" stroke-width="1.35" />
<line x1="185.60" y1="799.00" x2="192.80" y2="799.00" stroke="#8a8a8a" stroke-width="1.0" />
<line x1="187.00" y1="796.80" x2="191.40" y2="796.80" stroke="#b0b0b0" stroke-width="0.8" />
<line x1="187.00" y1="801.20" x2="191.40" y2="801.20" stroke="#b0b0b0" stroke-width="0.8" />
<rect x="184.30" y="794.10" width="9.80" height="9.80" fill="none" stroke="#111" stroke-width="1.35" />
<line x1="202.10" y1="783.20" x2="209.30" y2="783.20" stroke="#8a8a8a" stroke-width="1.0" />
<line x1="203.50" y1="781.00" x2="207.90" y2="781.00" stroke="#b0b0b0" stroke-width="0.8" />
<line x1="203.50" y1="785.40" x2="207.90" y2="785.40" stroke="#b0b0b0" stroke-width="0.8" />
<rect x="200.80" y="778.30" width="9.80" height="9.80" fill="none" stroke="#111" stroke-width="1.35" />
<line x1="219.00" y1="759.50" x2="226.20" y2="759.50" stroke="#8a8a8a" stroke-width="1.0" />
<line x1="220.40" y1="757.30" x2="224.80" y2="757.30" stroke="#b0b0b0" stroke-width="0.8" />
<line x1="220.40" y1="761.70" x2="224.80" y2="761.70" stroke="#b0b0b0" stroke-width="0.8" />
<rect x="217.70" y="754.60" width="9.80" height="9.80" fill="none" stroke="#111" stroke-width="1.35" />
<line x1="235.50" y1="741.20" x2="242.70" y2="741.20" stroke="#8a8a8a" stroke-width="1.0" />
<line x1="236.90" y1="739.00" x2="241.30" y2="739.00" stroke="#b0b0b0" stroke-width="0.8" />
<line x1="236.90" y1="743.40" x2="241.30" y2="743.40" stroke="#b0b0b0" stroke-width="0.8" />
<rect x="234.20" y="736.30" width="9.80" height="9.80" fill="none" stroke="#111" stroke-width="1.35" />
<line x1="252.10" y1="719.30" x2="259.30" y2="719.30" stroke="#8a8a8a" stroke-width="1.0" />
<line x1="253.50" y1="717.10" x2="257.90" y2="717.10" stroke="#b0b0b0" stroke-width="0.8" />
<line x1="253.50" y1="721.50" x2="257.90" y2="721.50" stroke="#b0b0b0" stroke-width="0.8" />
<rect x="250.80" y="714.40" width="9.80" height="9.80" fill="none" stroke="#111" stroke-width="1.35" />
<line x1="268.40" y1="699.90" x2="275.60" y2="699.90" stroke="#8a8a8a" stroke-width="1.0" />
<line x1="269.80" y1="697.70" x2="274.20" y2="697.70" stroke="#b0b0b0" stroke-width="0.8" />
<line x1="269.80" y1="702.10" x2="274.20" y2="702.10" stroke="#b0b0b0" stroke-width="0.8" />
<rect x="267.10" y="695.00" width="9.80" height="9.80" fill="none" stroke="#111" stroke-width="1.35" />
<line x1="285.40" y1="693.90" x2="292.60" y2="693.90" stroke="#8a8a8a" stroke-width="1.0" />
<line x1="286.80" y1="691.70" x2="291.20" y2="691.70" stroke="#b0b0b0" stroke-width="0.8" />
<line x1="286.80" y1="696.10" x2="291.20" y2="696.10" stroke="#b0b0b0" stroke-width="0.8" />
<rect x="284.10" y="689.00" width="9.80" height="9.80" fill="none" stroke="#111" stroke-width="1.35" />
<line x1="302.00" y1="680.00" x2="309.20" y2="680.00" stroke="#8a8a8a" stroke-width="1.0" />
<line x1="303.40" y1="677.80" x2="307.80" y2="677.80" stroke="#b0b0b0" stroke-width="0.8" />
<line x1="303.40" y1="682.20" x2="307.80" y2="682.20" stroke="#b0b0b0" stroke-width="0.8" />
<rect x="300.70" y="675.10" width="9.80" height="9.80" fill="none" stroke="#111" stroke-width="1.35" />
<line x1="318.30" y1="682.00" x2="325.50" y2="682.00" stroke="#8a8a8a" stroke-width="1.0" />
<line x1="319.70" y1="679.80" x2="324.10" y2="679.80" stroke="#b0b0b0" stroke-width="0.8" />
<line x1="319.70" y1="684.20" x2="324.10" y2="684.20" stroke="#b0b0b0" stroke-width="0.8" />
<rect x="317.00" y="677.10" width="9.80" height="9.80" fill="none" stroke="#111" stroke-width="1.35" />
<line x1="334.60" y1="672.10" x2="341.80" y2="672.10" stroke="#8a8a8a" stroke-width="1.0" />
<line x1="336.00" y1="669.90" x2="340.40" y2="669.90" stroke="#b0b0b0" stroke-width="0.8" />
<line x1="336.00" y1="674.30" x2="340.40" y2="674.30" stroke="#b0b0b0" stroke-width="0.8" />
<rect x="333.30" y="667.20" width="9.80" height="9.80" fill="none" stroke="#111" stroke-width="1.35" />
<line x1="356.90" y1="821.90" x2="364.10" y2="821.90" stroke="#8a8a8a" stroke-width="1.0" />
<line x1="358.30" y1="819.70" x2="362.70" y2="819.70" stroke="#b0b0b0" stroke-width="0.8" />
<line x1="358.30" y1="824.10" x2="362.70" y2="824.10" stroke="#b0b0b0" stroke-width="0.8" />
<rect x="355.60" y="817.00" width="9.80" height="9.80" fill="none" stroke="#111" stroke-width="1.35" />
<line x1="374.00" y1="800.30" x2="381.20" y2="800.30" stroke="#8a8a8a" stroke-width="1.0" />
<line x1="375.40" y1="798.10" x2="379.80" y2="798.10" stroke="#b0b0b0" stroke-width="0.8" />
<line x1="375.40" y1="802.50" x2="379.80" y2="802.50" stroke="#b0b0b0" stroke-width="0.8" />
<rect x="372.70" y="795.40" width="9.80" height="9.80" fill="none" stroke="#111" stroke-width="1.35" />
<line x1="390.30" y1="792.50" x2="397.50" y2="792.50" stroke="#8a8a8a" stroke-width="1.0" />
<line x1="391.70" y1="790.30" x2="396.10" y2="790.30" stroke="#b0b0b0" stroke-width="0.8" />
<line x1="391.70" y1="794.70" x2="396.10" y2="794.70" stroke="#b0b0b0" stroke-width="0.8" />
<rect x="389.00" y="787.60" width="9.80" height="9.80" fill="none" stroke="#111" stroke-width="1.35" />
<line x1="406.80" y1="796.40" x2="414.00" y2="796.40" stroke="#8a8a8a" stroke-width="1.0" />
<line x1="408.20" y1="794.20" x2="412.60" y2="794.20" stroke="#b0b0b0" stroke-width="0.8" />
<line x1="408.20" y1="798.60" x2="412.60" y2="798.60" stroke="#b0b0b0" stroke-width="0.8" />
<rect x="405.50" y="791.50" width="9.80" height="9.80" fill="none" stroke="#111" stroke-width="1.35" />
<line x1="423.60" y1="791.70" x2="430.80" y2="791.70" stroke="#8a8a8a" stroke-width="1.0" />
<line x1="425.00" y1="789.50" x2="429.40" y2="789.50" stroke="#b0b0b0" stroke-width="0.8" />
<line x1="425.00" y1="793.90" x2="429.40" y2="793.90" stroke="#b0b0b0" stroke-width="0.8" />
<rect x="422.30" y="786.80" width="9.80" height="9.80" fill="none" stroke="#111" stroke-width="1.35" />
<line x1="440.20" y1="779.80" x2="447.40" y2="779.80" stroke="#8a8a8a" stroke-width="1.0" />
<line x1="441.60" y1="777.60" x2="446.00" y2="777.60" stroke="#b0b0b0" stroke-width="0.8" />
<line x1="441.60" y1="782.00" x2="446.00" y2="782.00" stroke="#b0b0b0" stroke-width="0.8" />
<rect x="438.90" y="774.90" width="9.80" height="9.80" fill="none" stroke="#111" stroke-width="1.35" />
<line x1="456.70" y1="768.80" x2="463.90" y2="768.80" stroke="#8a8a8a" stroke-width="1.0" />
<line x1="458.10" y1="766.60" x2="462.50" y2="766.60" stroke="#b0b0b0" stroke-width="0.8" />
<line x1="458.10" y1="771.00" x2="462.50" y2="771.00" stroke="#b0b0b0" stroke-width="0.8" />
<rect x="455.40" y="763.90" width="9.80" height="9.80" fill="none" stroke="#111" stroke-width="1.35" />
<line x1="473.00" y1="740.40" x2="480.20" y2="740.40" stroke="#8a8a8a" stroke-width="1.0" />
<line x1="474.40" y1="738.20" x2="478.80" y2="738.20" stroke="#b0b0b0" stroke-width="0.8" />
<line x1="474.40" y1="742.60" x2="478.80" y2="742.60" stroke="#b0b0b0" stroke-width="0.8" />
<rect x="471.70" y="735.50" width="9.80" height="9.80" fill="none" stroke="#111" stroke-width="1.35" />
<line x1="490.10" y1="724.10" x2="497.30" y2="724.10" stroke="#8a8a8a" stroke-width="1.0" />
<line x1="491.50" y1="721.90" x2="495.90" y2="721.90" stroke="#b0b0b0" stroke-width="0.8" />
<line x1="491.50" y1="726.30" x2="495.90" y2="726.30" stroke="#b0b0b0" stroke-width="0.8" />
<rect x="488.80" y="719.20" width="9.80" height="9.80" fill="none" stroke="#111" stroke-width="1.35" />
<line x1="507.00" y1="715.00" x2="514.20" y2="715.00" stroke="#8a8a8a" stroke-width="1.0" />
<line x1="508.40" y1="712.80" x2="512.80" y2="712.80" stroke="#b0b0b0" stroke-width="0.8" />
<line x1="508.40" y1="717.20" x2="512.80" y2="717.20" stroke="#b0b0b0" stroke-width="0.8" />
<rect x="505.70" y="710.10" width="9.80" height="9.80" fill="none" stroke="#111" stroke-width="1.35" />
<line x1="523.60" y1="697.00" x2="530.80" y2="697.00" stroke="#8a8a8a" stroke-width="1.0" />
<line x1="525.00" y1="694.80" x2="529.40" y2="694.80" stroke="#b0b0b0" stroke-width="0.8" />
<line x1="525.00" y1="699.20" x2="529.40" y2="699.20" stroke="#b0b0b0" stroke-width="0.8" />
<rect x="522.30" y="692.10" width="9.80" height="9.80" fill="none" stroke="#111" stroke-width="1.35" />
<line x1="540.20" y1="706.90" x2="547.40" y2="706.90" stroke="#8a8a8a" stroke-width="1.0" />
<line x1="541.60" y1="704.70" x2="546.00" y2="704.70" stroke="#b0b0b0" stroke-width="0.8" />
<line x1="541.60" y1="709.10" x2="546.00" y2="709.10" stroke="#b0b0b0" stroke-width="0.8" />
<rect x="538.90" y="702.00" width="9.80" height="9.80" fill="none" stroke="#111" stroke-width="1.35" />
<line x1="556.70" y1="701.50" x2="563.90" y2="701.50" stroke="#8a8a8a" stroke-width="1.0" />
<line x1="558.10" y1="699.30" x2="562.50" y2="699.30" stroke="#b0b0b0" stroke-width="0.8" />
<line x1="558.10" y1="703.70" x2="562.50" y2="703.70" stroke="#b0b0b0" stroke-width="0.8" />
<rect x="555.40" y="696.60" width="9.80" height="9.80" fill="none" stroke="#111" stroke-width="1.35" />
<line x1="573.40" y1="693.90" x2="580.60" y2="693.90" stroke="#8a8a8a" stroke-width="1.0" />
<line x1="574.80" y1="691.70" x2="579.20" y2="691.70" stroke="#b0b0b0" stroke-width="0.8" />
<line x1="574.80" y1="696.10" x2="579.20" y2="696.10" stroke="#b0b0b0" stroke-width="0.8" />
<rect x="572.10" y="689.00" width="9.80" height="9.80" fill="none" stroke="#111" stroke-width="1.35" />
<line x1="102.00" y1="633.80" x2="588.90" y2="633.80" stroke="#000" stroke-width="2.0" />
<line x1="112.30" y1="633.80" x2="112.30" y2="843.60" stroke="#000" stroke-width="2.0" />
<line x1="111.30" y1="842.60" x2="588.90" y2="842.60" stroke="#000" stroke-width="2.0" />
<line x1="350.00" y1="633.80" x2="350.00" y2="842.60" stroke="#000" stroke-width="2.0" />
<line x1="587.90" y1="632.80" x2="587.90" y2="843.60" stroke="#000" stroke-width="2.0" />
<line x1="102.10" y1="834.60" x2="112.30" y2="834.60" stroke="#000" stroke-width="1.9" />
<text transform="translate(98.80,839.50) scale(1.070,1)" font-size="13.8" font-weight="normal" font-style="normal" text-anchor="end" fill="#000">0</text>
<line x1="106.40" y1="826.57" x2="112.30" y2="826.57" stroke="#000" stroke-width="1.9" />
<line x1="106.40" y1="818.54" x2="112.30" y2="818.54" stroke="#000" stroke-width="1.9" />
<line x1="106.40" y1="810.50" x2="112.30" y2="810.50" stroke="#000" stroke-width="1.9" />
<line x1="106.40" y1="802.47" x2="112.30" y2="802.47" stroke="#000" stroke-width="1.9" />
<line x1="102.10" y1="794.44" x2="112.30" y2="794.44" stroke="#000" stroke-width="1.9" />
<text transform="translate(98.80,799.34) scale(1.070,1)" font-size="13.8" font-weight="normal" font-style="normal" text-anchor="end" fill="#000">10000</text>
<line x1="106.40" y1="786.41" x2="112.30" y2="786.41" stroke="#000" stroke-width="1.9" />
<line x1="106.40" y1="778.38" x2="112.30" y2="778.38" stroke="#000" stroke-width="1.9" />
<line x1="106.40" y1="770.34" x2="112.30" y2="770.34" stroke="#000" stroke-width="1.9" />
<line x1="106.40" y1="762.31" x2="112.30" y2="762.31" stroke="#000" stroke-width="1.9" />
<line x1="102.10" y1="754.28" x2="112.30" y2="754.28" stroke="#000" stroke-width="1.9" />
<text transform="translate(98.80,759.18) scale(1.070,1)" font-size="13.8" font-weight="normal" font-style="normal" text-anchor="end" fill="#000">20000</text>
<line x1="106.40" y1="746.25" x2="112.30" y2="746.25" stroke="#000" stroke-width="1.9" />
<line x1="106.40" y1="738.22" x2="112.30" y2="738.22" stroke="#000" stroke-width="1.9" />
<line x1="106.40" y1="730.18" x2="112.30" y2="730.18" stroke="#000" stroke-width="1.9" />
<line x1="106.40" y1="722.15" x2="112.30" y2="722.15" stroke="#000" stroke-width="1.9" />
<line x1="102.10" y1="714.12" x2="112.30" y2="714.12" stroke="#000" stroke-width="1.9" />
<text transform="translate(98.80,719.02) scale(1.070,1)" font-size="13.8" font-weight="normal" font-style="normal" text-anchor="end" fill="#000">30000</text>
<line x1="106.40" y1="706.09" x2="112.30" y2="706.09" stroke="#000" stroke-width="1.9" />
<line x1="106.40" y1="698.06" x2="112.30" y2="698.06" stroke="#000" stroke-width="1.9" />
<line x1="106.40" y1="690.02" x2="112.30" y2="690.02" stroke="#000" stroke-width="1.9" />
<line x1="106.40" y1="681.99" x2="112.30" y2="681.99" stroke="#000" stroke-width="1.9" />
<line x1="102.10" y1="673.96" x2="112.30" y2="673.96" stroke="#000" stroke-width="1.9" />
<text transform="translate(98.80,678.86) scale(1.070,1)" font-size="13.8" font-weight="normal" font-style="normal" text-anchor="end" fill="#000">40000</text>
<line x1="106.40" y1="665.93" x2="112.30" y2="665.93" stroke="#000" stroke-width="1.9" />
<line x1="106.40" y1="657.90" x2="112.30" y2="657.90" stroke="#000" stroke-width="1.9" />
<line x1="106.40" y1="649.86" x2="112.30" y2="649.86" stroke="#000" stroke-width="1.9" />
<line x1="106.40" y1="641.83" x2="112.30" y2="641.83" stroke="#000" stroke-width="1.9" />
<line x1="102.10" y1="633.80" x2="112.30" y2="633.80" stroke="#000" stroke-width="1.9" />
<text transform="translate(98.80,638.70) scale(1.070,1)" font-size="13.8" font-weight="normal" font-style="normal" text-anchor="end" fill="#000">50000</text>
<line x1="587.90" y1="832.80" x2="598.10" y2="832.80" stroke="#000" stroke-width="1.9" />
<text transform="translate(602.40,837.70) scale(1.100,1)" font-size="13.8" font-weight="normal" font-style="normal" text-anchor="start" fill="#000">0</text>
<line x1="587.90" y1="822.85" x2="594.30" y2="822.85" stroke="#000" stroke-width="1.9" />
<line x1="587.90" y1="812.90" x2="594.30" y2="812.90" stroke="#000" stroke-width="1.9" />
<line x1="587.90" y1="802.95" x2="594.30" y2="802.95" stroke="#000" stroke-width="1.9" />
<line x1="587.90" y1="793.00" x2="594.30" y2="793.00" stroke="#000" stroke-width="1.9" />
<line x1="587.90" y1="783.05" x2="598.10" y2="783.05" stroke="#000" stroke-width="1.9" />
<text transform="translate(602.40,787.95) scale(1.100,1)" font-size="13.8" font-weight="normal" font-style="normal" text-anchor="start" fill="#000">10</text>
<line x1="587.90" y1="773.10" x2="594.30" y2="773.10" stroke="#000" stroke-width="1.9" />
<line x1="587.90" y1="763.15" x2="594.30" y2="763.15" stroke="#000" stroke-width="1.9" />
<line x1="587.90" y1="753.20" x2="594.30" y2="753.20" stroke="#000" stroke-width="1.9" />
<line x1="587.90" y1="743.25" x2="594.30" y2="743.25" stroke="#000" stroke-width="1.9" />
<line x1="587.90" y1="733.30" x2="598.10" y2="733.30" stroke="#000" stroke-width="1.9" />
<text transform="translate(602.40,738.20) scale(1.100,1)" font-size="13.8" font-weight="normal" font-style="normal" text-anchor="start" fill="#000">20</text>
<line x1="587.90" y1="723.35" x2="594.30" y2="723.35" stroke="#000" stroke-width="1.9" />
<line x1="587.90" y1="713.40" x2="594.30" y2="713.40" stroke="#000" stroke-width="1.9" />
<line x1="587.90" y1="703.45" x2="594.30" y2="703.45" stroke="#000" stroke-width="1.9" />
<line x1="587.90" y1="693.50" x2="594.30" y2="693.50" stroke="#000" stroke-width="1.9" />
<line x1="587.90" y1="683.55" x2="598.10" y2="683.55" stroke="#000" stroke-width="1.9" />
<text transform="translate(602.40,688.45) scale(1.100,1)" font-size="13.8" font-weight="normal" font-style="normal" text-anchor="start" fill="#000">30</text>
<line x1="587.90" y1="673.60" x2="594.30" y2="673.60" stroke="#000" stroke-width="1.9" />
<line x1="587.90" y1="663.65" x2="594.30" y2="663.65" stroke="#000" stroke-width="1.9" />
<line x1="587.90" y1="653.70" x2="594.30" y2="653.70" stroke="#000" stroke-width="1.9" />
<line x1="587.90" y1="643.75" x2="594.30" y2="643.75" stroke="#000" stroke-width="1.9" />
<line x1="587.90" y1="633.80" x2="598.10" y2="633.80" stroke="#000" stroke-width="1.9" />
<text transform="translate(602.40,638.70) scale(1.100,1)" font-size="13.8" font-weight="normal" font-style="normal" text-anchor="start" fill="#000">40</text>
<line x1="122.70" y1="842.60" x2="122.70" y2="852.60" stroke="#000" stroke-width="2.0" />
<text transform="translate(126.00,856.00) rotate(-90)" font-size="13.0" font-weight="normal" font-style="normal" text-anchor="end" fill="#000">(-)</text>
<line x1="139.28" y1="842.60" x2="139.28" y2="852.60" stroke="#000" stroke-width="2.0" />
<text transform="translate(142.58,856.00) rotate(-90)" font-size="13.0" font-weight="normal" font-style="normal" text-anchor="end" fill="#000">30</text>
<line x1="155.86" y1="842.60" x2="155.86" y2="852.60" stroke="#000" stroke-width="2.0" />
<text transform="translate(159.16,856.00) rotate(-90)" font-size="13.0" font-weight="normal" font-style="normal" text-anchor="end" fill="#000">32</text>
<line x1="172.44" y1="842.60" x2="172.44" y2="852.60" stroke="#000" stroke-width="2.0" />
<text transform="translate(175.74,856.00) rotate(-90)" font-size="13.0" font-weight="normal" font-style="normal" text-anchor="end" fill="#000">34</text>
<line x1="189.02" y1="842.60" x2="189.02" y2="852.60" stroke="#000" stroke-width="2.0" />
<text transform="translate(192.32,856.00) rotate(-90)" font-size="13.0" font-weight="normal" font-style="normal" text-anchor="end" fill="#000">35</text>
<line x1="205.60" y1="842.60" x2="205.60" y2="852.60" stroke="#000" stroke-width="2.0" />
<text transform="translate(208.90,856.00) rotate(-90)" font-size="13.0" font-weight="normal" font-style="normal" text-anchor="end" fill="#000">36</text>
<line x1="222.18" y1="842.60" x2="222.18" y2="852.60" stroke="#000" stroke-width="2.0" />
<text transform="translate(225.48,856.00) rotate(-90)" font-size="13.0" font-weight="normal" font-style="normal" text-anchor="end" fill="#000">37</text>
<line x1="238.76" y1="842.60" x2="238.76" y2="852.60" stroke="#000" stroke-width="2.0" />
<text transform="translate(242.06,856.00) rotate(-90)" font-size="13.0" font-weight="normal" font-style="normal" text-anchor="end" fill="#000">38</text>
<line x1="255.34" y1="842.60" x2="255.34" y2="852.60" stroke="#000" stroke-width="2.0" />
<text transform="translate(258.64,856.00) rotate(-90)" font-size="13.0" font-weight="normal" font-style="normal" text-anchor="end" fill="#000">39</text>
<line x1="271.92" y1="842.60" x2="271.92" y2="852.60" stroke="#000" stroke-width="2.0" />
<text transform="translate(275.22,856.00) rotate(-90)" font-size="13.0" font-weight="normal" font-style="normal" text-anchor="end" fill="#000">40</text>
<line x1="288.50" y1="842.60" x2="288.50" y2="852.60" stroke="#000" stroke-width="2.0" />
<text transform="translate(291.80,856.00) rotate(-90)" font-size="13.0" font-weight="normal" font-style="normal" text-anchor="end" fill="#000">41</text>
<line x1="305.08" y1="842.60" x2="305.08" y2="852.60" stroke="#000" stroke-width="2.0" />
<text transform="translate(308.38,856.00) rotate(-90)" font-size="13.0" font-weight="normal" font-style="normal" text-anchor="end" fill="#000">42</text>
<line x1="321.66" y1="842.60" x2="321.66" y2="852.60" stroke="#000" stroke-width="2.0" />
<text transform="translate(324.96,856.00) rotate(-90)" font-size="13.0" font-weight="normal" font-style="normal" text-anchor="end" fill="#000">43</text>
<line x1="338.24" y1="842.60" x2="338.24" y2="852.60" stroke="#000" stroke-width="2.0" />
<text transform="translate(341.54,856.00) rotate(-90)" font-size="13.0" font-weight="normal" font-style="normal" text-anchor="end" fill="#000">44</text>
<line x1="361.00" y1="842.60" x2="361.00" y2="852.60" stroke="#000" stroke-width="2.0" />
<text transform="translate(364.30,856.00) rotate(-90)" font-size="13.0" font-weight="normal" font-style="normal" text-anchor="end" fill="#000">(-)</text>
<line x1="377.58" y1="842.60" x2="377.58" y2="852.60" stroke="#000" stroke-width="2.0" />
<text transform="translate(380.88,856.00) rotate(-90)" font-size="13.0" font-weight="normal" font-style="normal" text-anchor="end" fill="#000">30</text>
<line x1="394.16" y1="842.60" x2="394.16" y2="852.60" stroke="#000" stroke-width="2.0" />
<text transform="translate(397.46,856.00) rotate(-90)" font-size="13.0" font-weight="normal" font-style="normal" text-anchor="end" fill="#000">32</text>
<line x1="410.74" y1="842.60" x2="410.74" y2="852.60" stroke="#000" stroke-width="2.0" />
<text transform="translate(414.04,856.00) rotate(-90)" font-size="13.0" font-weight="normal" font-style="normal" text-anchor="end" fill="#000">34</text>
<line x1="427.32" y1="842.60" x2="427.32" y2="852.60" stroke="#000" stroke-width="2.0" />
<text transform="translate(430.62,856.00) rotate(-90)" font-size="13.0" font-weight="normal" font-style="normal" text-anchor="end" fill="#000">35</text>
<line x1="443.90" y1="842.60" x2="443.90" y2="852.60" stroke="#000" stroke-width="2.0" />
<text transform="translate(447.20,856.00) rotate(-90)" font-size="13.0" font-weight="normal" font-style="normal" text-anchor="end" fill="#000">36</text>
<line x1="460.48" y1="842.60" x2="460.48" y2="852.60" stroke="#000" stroke-width="2.0" />
<text transform="translate(463.78,856.00) rotate(-90)" font-size="13.0" font-weight="normal" font-style="normal" text-anchor="end" fill="#000">37</text>
<line x1="477.06" y1="842.60" x2="477.06" y2="852.60" stroke="#000" stroke-width="2.0" />
<text transform="translate(480.36,856.00) rotate(-90)" font-size="13.0" font-weight="normal" font-style="normal" text-anchor="end" fill="#000">38</text>
<line x1="493.64" y1="842.60" x2="493.64" y2="852.60" stroke="#000" stroke-width="2.0" />
<text transform="translate(496.94,856.00) rotate(-90)" font-size="13.0" font-weight="normal" font-style="normal" text-anchor="end" fill="#000">39</text>
<line x1="510.22" y1="842.60" x2="510.22" y2="852.60" stroke="#000" stroke-width="2.0" />
<text transform="translate(513.52,856.00) rotate(-90)" font-size="13.0" font-weight="normal" font-style="normal" text-anchor="end" fill="#000">40</text>
<line x1="526.80" y1="842.60" x2="526.80" y2="852.60" stroke="#000" stroke-width="2.0" />
<text transform="translate(530.10,856.00) rotate(-90)" font-size="13.0" font-weight="normal" font-style="normal" text-anchor="end" fill="#000">41</text>
<line x1="543.38" y1="842.60" x2="543.38" y2="852.60" stroke="#000" stroke-width="2.0" />
<text transform="translate(546.68,856.00) rotate(-90)" font-size="13.0" font-weight="normal" font-style="normal" text-anchor="end" fill="#000">42</text>
<line x1="559.96" y1="842.60" x2="559.96" y2="852.60" stroke="#000" stroke-width="2.0" />
<text transform="translate(563.26,856.00) rotate(-90)" font-size="13.0" font-weight="normal" font-style="normal" text-anchor="end" fill="#000">43</text>
<line x1="576.54" y1="842.60" x2="576.54" y2="852.60" stroke="#000" stroke-width="2.0" />
<text transform="translate(579.84,856.00) rotate(-90)" font-size="13.0" font-weight="normal" font-style="normal" text-anchor="end" fill="#000">44</text>
<text transform="translate(144.80,653.40)" font-size="13" font-weight="normal" font-style="normal" text-anchor="start" fill="#000" textLength="172.3" lengthAdjust="spacingAndGlyphs">AP2-G Nanoluciferase signal</text>
<text transform="translate(442.50,654.20)" font-size="13" font-weight="bold" font-style="normal" text-anchor="start" fill="#000" textLength="52.5" lengthAdjust="spacingAndGlyphs">GCR (%)</text>
<text transform="translate(261.70,883.70)" font-size="14.2" font-weight="bold" font-style="normal" text-anchor="start" fill="#000" textLength="175.2" lengthAdjust="spacingAndGlyphs">Shld1 removal time (hpi)</text>
<text transform="translate(45.80,841.70) rotate(-90)" font-size="16.3" font-weight="bold" font-style="normal" text-anchor="start" fill="#000" textLength="205.2" lengthAdjust="spacingAndGlyphs">nLuc signal/20K parasites</text>
<text transform="translate(641.10,783.90) rotate(-90)" font-size="15.4" font-weight="bold" font-style="normal" text-anchor="start" fill="#000" textLength="92.1" lengthAdjust="spacingAndGlyphs">D6-GCR (%)</text>
<text transform="translate(-0.50,638.80)" font-size="20.7" font-weight="bold" font-style="normal" text-anchor="start" fill="#000">g</text>
</svg>
</body></html>
